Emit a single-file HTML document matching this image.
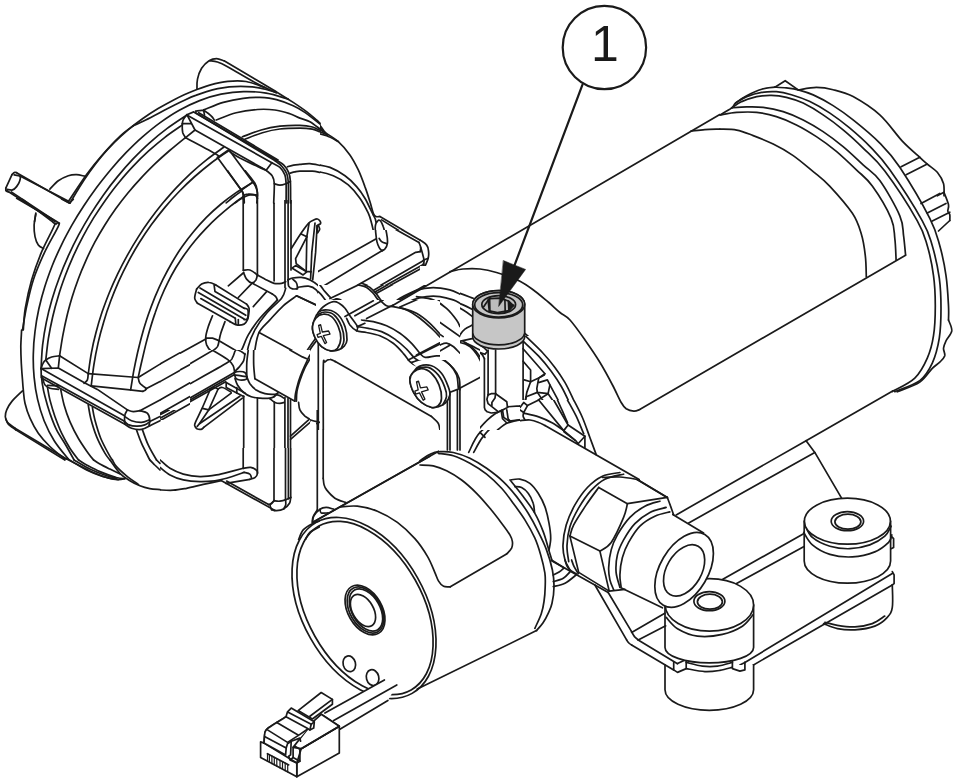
<!DOCTYPE html>
<html><head><meta charset="utf-8"><title>Pump diagram</title>
<style>
html,body{margin:0;padding:0;background:#fff;}
body{width:961px;height:784px;overflow:hidden;}
svg{display:block;}
.ln{fill:none;stroke:#1a1a1a;stroke-width:1.7;stroke-linecap:round;stroke-linejoin:round;}
text{font-family:"Liberation Sans",Arial,sans-serif;fill:#1a1a1a;}
</style></head><body>
<svg width="961" height="784" viewBox="0 0 961 784">
<rect width="961" height="784" fill="#fff"/>
<g class="ln">
<path d="M264.1 87.4C261.1 86.4 252.2 82.5 246.1 81.5C240.1 80.4 233.9 80.7 227.9 81.4C221.8 82 215.7 83.5 209.7 85.1C203.7 86.8 197.7 89.1 191.9 91.5C186 93.8 180.2 96.6 174.6 99.4C169 102.3 163.5 105.4 158.1 108.6C152.8 111.8 147.5 115.3 142.5 118.8C137.4 122.4 132.5 126.2 127.8 130.2C123.1 134.2 118.5 138.3 114.1 142.7C109.7 147.1 105.5 151.7 101.5 156.5C97.5 161.3 93.6 166.4 89.9 171.5C86.2 176.7 82.7 182 79.4 187.3C76.1 192.6 71.5 200.6 69.9 203.2"/>
<path d="M274.9 91.9C273 91.4 267.5 89.6 263.7 88.8C259.9 87.9 256.1 87.3 252.3 86.9C248.4 86.5 244.5 86.3 240.7 86.3C236.8 86.3 233 86.5 229.2 86.9C225.3 87.3 221.5 88 217.8 88.7C214 89.5 210.3 90.5 206.6 91.6C202.9 92.7 199.3 94 195.7 95.4C192.1 96.7 188.5 98.3 185 99.9C181.5 101.5 178 103.2 174.6 104.9C171.1 106.7 167.7 108.5 164.3 110.3C160.9 112.2 157.5 114 154 115.8C150.6 117.6 147.2 119.4 143.7 121.1C140.3 122.7 134.9 125 133.2 125.8"/>
<path d="M68.6 201.2C71.6 196.8 81.1 182.2 86.6 174.6C92.1 167 96 162.1 101.6 155.8C107.1 149.4 114.6 141.3 119.9 136.3C125.1 131.3 131 127.5 133.2 125.8"/>
<path d="M288.2 99.1C284.5 98.1 273.7 94.4 266.2 93.2C258.8 91.9 251 91.4 243.5 91.6C236 91.7 228.4 92.7 221.1 94.2C213.8 95.7 206.6 97.9 199.6 100.6C192.6 103.3 185.8 106.6 179.3 110.3C172.7 114 166.4 118.2 160.2 122.6C154.1 127 148.2 131.9 142.5 136.9C136.8 141.9 131.3 147.3 126 152.7C120.7 158.2 115.6 163.9 110.7 169.7C105.9 175.5 101.1 181.4 96.6 187.5C92.1 193.6 87.8 199.7 83.7 206C79.5 212.3 75.6 218.7 71.9 225.2C68.2 231.8 64.6 238.4 61.4 245.1C58.1 251.9 55 258.7 52.2 265.7C49.5 272.7 46.9 279.8 44.7 287C42.4 294.2 40.5 301.6 38.8 309C37.2 316.4 35.9 324 35 331.5C34 339.1 33.4 346.7 33.3 354.3C33.1 361.9 33.4 369.6 34.1 377.1C34.8 384.6 35.9 392.1 37.6 399.4C39.2 406.6 41.4 413.8 44.1 420.7C46.9 427.6 50.2 434.3 54.2 440.7C58.2 447.1 65.9 456 68.3 459"/>
<path d="M186.6 115.2C183.4 117.4 173.5 123.7 167.2 128.4C161 133 155 138 149.3 143.1C143.5 148.3 138 153.8 132.6 159.4C127.3 165 122.2 170.9 117.3 176.9C112.3 182.9 107.6 189.1 103.1 195.4C98.6 201.8 94.3 208.3 90.2 214.9C86.1 221.5 82.2 228.3 78.5 235.2C74.8 242.1 71.4 249.1 68.2 256.1C65 263.2 62 270.4 59.3 277.7C56.5 285 54.1 292.3 51.9 299.7C49.7 307.2 47.8 314.7 46.3 322.3C44.7 329.9 43.5 337.5 42.6 345.2C41.7 353 41.3 364.7 41.1 368.6"/>
<path d="M182.5 124.9C179.5 127 170.5 133 164.9 137.3C159.2 141.7 153.7 146.4 148.4 151.2C143 156.1 137.9 161.2 133 166.4C128 171.6 123.3 177.1 118.7 182.7C114.1 188.2 109.8 194 105.6 199.9C101.4 205.8 97.4 211.8 93.6 217.9C89.8 224.1 86.2 230.3 82.9 236.7C79.5 243 76.3 249.5 73.3 256.1C70.4 262.6 67.6 269.3 65.1 276C62.6 282.7 60.2 289.5 58.2 296.4C56.1 303.2 54.2 310.2 52.6 317.2C51 324.2 49.6 331.2 48.4 338.4C47.3 345.5 46.2 356.4 45.8 360"/>
<path d="M185 137.9C182.4 140 174.7 146.2 169.7 150.5C164.7 154.8 159.7 159.3 154.9 163.9C150.2 168.5 145.5 173.2 141 178.1C136.5 182.9 132.1 187.9 127.9 193C123.7 198.1 119.6 203.4 115.7 208.8C111.9 214.1 108.2 219.6 104.7 225.3C101.2 230.9 97.9 236.6 94.7 242.4C91.6 248.3 88.7 254.2 86 260.3C83.3 266.3 80.7 272.4 78.4 278.7C76.1 284.9 73.9 291.2 72 297.5C70.1 303.9 68.3 310.3 66.8 316.7C65.2 323.2 63.9 329.7 62.7 336.2C61.5 342.7 60.1 352.5 59.6 355.8"/>
<path d="M223.7 147.2C220.9 149.3 212.3 155.2 206.8 159.6C201.3 163.9 196.1 168.4 191 173.1C185.9 177.9 181 182.8 176.2 187.8C171.4 192.9 166.9 198.2 162.4 203.5C158 208.9 153.8 214.4 149.7 220.1C145.6 225.7 141.7 231.5 138 237.4C134.2 243.3 130.7 249.3 127.3 255.4C123.9 261.5 120.7 267.7 117.7 273.9C114.7 280.2 111.8 286.6 109.2 293C106.6 299.4 104.2 306 101.9 312.5C99.7 319.1 97.7 325.8 96 332.5C94.2 339.2 92.6 346 91.4 352.9C90.1 359.7 88.8 370.2 88.3 373.6"/>
<path d="M229.3 150.2C226.4 152.3 217.3 158.3 211.5 162.7C205.8 167.1 200.2 171.7 194.8 176.5C189.4 181.3 184.2 186.3 179.2 191.5C174.1 196.7 169.3 202.1 164.7 207.6C160 213.2 155.6 218.9 151.3 224.8C147.1 230.6 143.1 236.6 139.2 242.8C135.4 248.9 131.8 255.2 128.4 261.6C125 268 121.8 274.5 118.8 281.1C115.9 287.7 113.1 294.5 110.6 301.2C108 308 105.7 314.9 103.7 321.9C101.6 328.8 99.7 335.8 98.1 342.9C96.5 349.9 95.1 357.1 94 364.2C92.8 371.4 91.7 382.2 91.2 385.8"/>
<path d="M252.5 182.5C249.7 184.3 241.2 189.2 235.8 192.9C230.5 196.5 225.4 200.4 220.5 204.5C215.6 208.6 210.9 212.9 206.4 217.4C202 221.9 197.7 226.6 193.7 231.5C189.6 236.4 185.8 241.4 182.2 246.6C178.5 251.8 175.1 257.2 171.9 262.7C168.7 268.2 165.7 273.8 162.8 279.6C160 285.3 157.4 291.2 154.9 297.1C152.5 303.1 150.2 309.2 148.1 315.3C146.1 321.3 144.1 327.5 142.4 333.7C140.6 339.9 139.1 346.2 137.6 352.5C136.2 358.7 134.9 365 133.7 371.2C132.6 377.5 131.2 386.8 130.6 389.9"/>
<path d="M244.1 195.8C241.9 197.5 235.2 202.4 230.8 205.8C226.5 209.3 222.2 212.9 218.1 216.7C214 220.4 209.9 224.3 206.1 228.3C202.2 232.3 198.5 236.5 195 240.7C191.4 245 188.1 249.4 184.9 253.9C181.7 258.4 178.7 263.1 175.8 267.8C173 272.6 170.3 277.4 167.9 282.4C165.4 287.3 163.1 292.4 161 297.5C158.8 302.6 156.9 307.8 155.1 313.1C153.2 318.3 151.6 323.7 150 329C148.4 334.3 147 339.7 145.6 345.1C144.3 350.5 143 356 141.8 361.3C140.5 366.7 138.8 374.8 138.2 377.4"/>
<path d="M69.9 203.2L16.6 172.7"/>
<path d="M16.6 172.7C16.3 172.7 15.4 172.1 14.7 172.4C13.9 172.7 12.4 174.2 12 174.6"/>
<path d="M12 174.6L5.8 188.2"/>
<path d="M5.8 188.2C5.9 188.6 5.6 190.1 6 190.7C6.4 191.3 7.9 191.7 8.3 191.9"/>
<path d="M68.6 201.2L20 176.1"/>
<path d="M14.2 174.9C15.1 175.1 19.1 175.2 20 176.2C20.9 177.3 20.2 179.5 19.6 181.2C19.1 183 17.8 185.1 16.6 186.6C15.5 188 14 189.4 12.5 189.9C11 190.4 8.3 189.5 7.5 189.4"/>
<path d="M6.3 190.2L54.9 221.5"/>
<path d="M11.3 191.9L53.6 219.9"/>
<path d="M49.9 189.1C51.3 187.7 55.2 183 58.3 180.7C61.3 178.5 65.2 176.8 68.3 175.7C71.3 174.7 73.8 174.5 76.6 174.6C79.4 174.7 83.5 176 84.9 176.2"/>
<path d="M35.8 213.2L34.6 221.5"/>
<path d="M197 89.1C197 87.5 196.7 82.6 197.5 79.1C198.2 75.7 199.7 71.4 201.6 68.3C203.6 65.3 206.6 62.4 209.1 60.8C211.6 59.2 214.1 58.6 216.6 58.6C219.1 58.6 222.9 60.5 224.1 60.8"/>
<path d="M224.1 60.8C229 63.7 244.5 72.8 253.2 78C262 83.1 269.9 87.9 276.5 91.9C283.2 96 288.2 99.2 293.2 102.4C298.2 105.7 302.6 108.7 306.5 111.6C310.4 114.5 314.3 118 316.5 119.9C318.8 121.9 319.4 122.7 320 123.2"/>
<path d="M209.9 60.8C211.2 61 214.7 61.1 217.4 62C220.2 62.9 220.6 63 226.6 66.3C232.6 69.6 246.6 78 253.2 81.6C259.9 85.3 262.7 86.4 266.6 88.3C270.4 90.2 274.9 92.2 276.5 92.9"/>
<path d="M203.6 109.9C206.9 108.7 216.7 104.4 223.3 102.4C229.9 100.5 237.1 99.1 243.2 98.3C249.4 97.4 254.3 97.2 259.9 97.4C265.4 97.7 271 98.2 276.5 99.6C282.1 101 288.5 103.6 293.2 105.8C297.9 107.9 300.4 109.4 304.8 112.4C309.3 115.5 317.5 122.1 320 124.1"/>
<path d="M186.9 114.7C186.2 115.6 183.9 118.3 183.1 120C182.4 121.7 182.3 122.9 182.2 125C182.2 127.1 182.2 130.3 182.7 132.5C183.3 134.6 185.1 136.8 185.6 137.7"/>
<path d="M182.2 123.7L191.2 123.7"/>
<path d="M186.9 114.7L195 130L185.6 137.7"/>
<path d="M195 130L266.2 170.3"/>
<path d="M185.6 137.7C190.7 140.5 210.9 151 216.2 154.3C221.5 157.6 217.3 156.9 217.5 157.4"/>
<path d="M217.5 157.4L241.2 189.9"/>
<path d="M241.2 189.9C241.6 190.7 243.2 192.7 243.7 194.9C244.2 197.1 244.2 201.6 244.3 202.9"/>
<path d="M186.9 114.7L193.7 111.9L276.1 159.9"/>
<path d="M195.6 112.7L275.2 160.8"/>
<path d="M198.7 112.7L278 159.9"/>
<path d="M187.7 115.5L271.8 162.7L266.2 170.3"/>
<path d="M271.8 162.7C273.1 163.5 277.7 165.4 279.9 167.4C282.1 169.5 283.9 172.2 284.9 174.9C285.9 177.6 285.9 179 286.1 183.7C286.3 188.3 286.1 199.7 286.1 202.9"/>
<path d="M276.1 159.9C277.4 160.8 281.6 162.9 283.6 164.9C285.7 167 287.5 169.7 288.6 172.4C289.8 175.1 290.1 176.1 290.4 181.2C290.7 186.2 290.6 199.3 290.6 202.9"/>
<path d="M275.2 160.8C276.3 161.7 279.8 164 281.8 166.2C283.7 168.3 285.7 171 286.8 173.7C287.8 176.4 288 177.5 288.3 182.4C288.5 187.3 288.4 199.5 288.4 202.9"/>
<path d="M266.2 170.3C267.2 171.3 271.1 173.9 272.4 176.2C273.8 178.4 274.1 179.2 274.3 183.7C274.5 188.1 273.8 199.7 273.7 202.9"/>
<path d="M274.3 183.7C275.2 183.9 277.9 185.2 279.9 185.2C281.9 185.2 284.4 184.3 286.1 183.7C287.9 183 289.7 181.6 290.4 181.2"/>
<path d="M218.7 156.6L228.1 150.2"/>
<path d="M229.3 150.2L254.9 184.9"/>
<path d="M254.9 184.9C255.3 186.2 257.1 189.4 257.4 192.4C257.7 195.4 256.9 201.1 256.8 202.9"/>
<path d="M229.9 151.8C231.6 152.9 235.8 155.8 239.9 158.1C244.1 160.3 250.6 163.1 254.9 165.2C259.3 167.2 264.3 169.5 266.2 170.3"/>
<path d="M241.2 190.2L252.4 182.4"/>
<path d="M243.7 195.2C244.4 195 246.2 194.2 248.1 194.2C249.9 194.1 253.5 194.4 254.9 194.9C256.4 195.4 256.5 196.8 256.8 197.2"/>
<path d="M226.2 202.9C227.5 201.9 231.2 198.7 233.7 196.8C236.2 194.9 239.9 192.3 241.2 191.4"/>
<path d="M234.9 202.9C235.7 202.4 237.8 200.9 239.3 199.9C240.8 198.9 243.2 197.3 243.9 196.8"/>
<path d="M216.2 120C219.5 118.8 229.3 114.5 236.2 112.7C243.1 111 251 110 257.4 109.5C263.9 109 269.5 109.3 274.9 110C280.3 110.7 285.7 112.4 289.9 113.7C294 115.1 296.5 116.8 299.9 118.1C303.2 119.4 306.5 119.9 309.9 121.7C313.2 123.5 318.2 127.8 319.9 129"/>
<path d="M242.4 136.8C245.6 135.7 254.9 131.7 261.2 130C267.4 128.2 273.4 127 279.9 126.2C286.3 125.5 294.5 125.2 299.9 125.4C305.3 125.5 309 126.1 312.4 127C315.7 127.9 318.6 130 319.9 130.6"/>
<path d="M244.9 139.3C247.8 138.2 256.6 134.4 262.4 132.7C268.2 131 273.7 129.7 279.9 129C286.1 128.2 294.5 128.1 299.9 128.1C305.3 128.1 309 128.6 312.4 129.2C315.7 129.8 318.6 131.4 319.9 131.8"/>
<path d="M287.4 166.8C288.4 166.5 291.6 165.6 293.6 165.2C295.7 164.8 297.2 164.7 299.9 164.4C302.6 164.2 306.5 163.5 309.9 163.7C313.2 163.9 318.2 165.1 319.9 165.4"/>
<path d="M290.1 173.1C290.9 172.9 293.3 172.2 294.9 171.9C296.5 171.6 297 171.3 299.9 171.2C302.8 171.1 309 171 312.4 171.2C315.7 171.4 318.6 172.2 319.9 172.4"/>
<path d="M195.6 111.2C197 111.1 201.1 109.8 203.7 110.6C206.3 111.4 209.4 114.4 211.2 116C213 117.5 213.8 119.3 214.3 120"/>
<path d="M203.7 110.6L204.5 115.2"/>
<path d="M21.6 330C21.5 332.8 20.9 341.1 20.8 346.6C20.8 352.2 21 357.7 21.3 363.3C21.6 368.8 22.1 375.5 22.5 379.9C22.8 384.4 22.9 386.1 23.3 389.9C23.7 393.8 23.9 398.5 25 403.3C26.1 408 27.7 413.2 30 418.2C32.2 423.2 35 428.5 38.3 433.2C41.6 437.9 45.5 442.2 49.9 446.5C54.4 450.8 62.4 457 64.9 459"/>
<path d="M22.5 390.8C20.7 392.6 14.3 398.4 11.7 401.6C9 404.8 7.7 407.4 6.7 409.9C5.6 412.4 5.2 414.5 5.3 416.6C5.5 418.7 5.9 420.5 7.5 422.4C9.1 424.3 13.7 427.3 15 428.2"/>
<path d="M15 428.2L66.6 459"/>
<path d="M6 419.1C6.4 419.9 6.7 422.3 8.3 424.1C10 425.9 14.6 428.9 15.8 429.9"/>
<path d="M15.8 429.9L64.9 460"/>
<path d="M41.6 377.5C41.8 378.7 41.9 381.8 42.5 384.9C43 388.1 43.7 391.9 45 396.6C46.2 401.3 48 407.7 49.9 413.2C51.9 418.8 53.8 424.3 56.6 429.9C59.4 435.4 63.7 441.5 66.6 446.5C69.5 451.6 72.8 457.8 74.1 460"/>
<path d="M47.5 387.4C47.9 389.5 48.7 395.1 49.9 399.9C51.2 404.8 53 411 54.9 416.6C56.9 422.1 59.1 428 61.6 433.2C64.1 438.5 67.1 443.7 69.9 448.2C72.8 452.7 77.1 458.1 78.6 460"/>
<path d="M60.8 389.9C61.3 392.4 62.6 399.6 64.1 404.9C65.6 410.2 67.6 416 69.9 421.6C72.3 427.1 75.2 432.9 78.3 438.2C81.3 443.5 85.7 449.6 88.2 453.2C90.8 456.8 92.7 458.9 93.6 460"/>
<path d="M88.2 404.9C88.7 407.1 89.4 413 90.7 418.2C92.1 423.5 94.2 430.7 96.6 436.6C98.9 442.4 102.7 449.3 104.9 453.2C107.1 457.1 109.1 458.9 109.9 460"/>
<path d="M92.4 407.4C92.8 409.5 93.5 414.8 94.9 419.9C96.3 425 98.4 432.4 100.7 438.2C103.1 444 107.1 451.2 109.1 454.9C111 458.5 111.8 459.2 112.4 460"/>
<path d="M136.5 429.9C137.4 432.1 139.3 438.2 141.5 443.2C143.7 448.2 148.5 457.2 149.8 460"/>
<path d="M142.4 429.6C143.3 432.1 145.8 439.8 148.2 444.9C150.5 450 155.1 457.5 156.5 460"/>
<path d="M41.1 368.6C41.4 367.7 42.2 364.7 43 363.3C43.7 361.9 44.3 361 45.8 360C47.2 358.9 49.3 357.7 51.6 357C53.9 356.3 58.3 356 59.6 355.8"/>
<path d="M59.6 355.8L88.2 373.6L138.2 377.5L160 364.1"/>
<path d="M59.6 355.8L58.3 368"/>
<path d="M45.8 360L51.6 368.3"/>
<path d="M41.1 368.6L58.3 368L84.9 382.9"/>
<path d="M88.2 373.6C88.1 374.7 88.1 378.3 87.4 379.9C86.7 381.6 84.6 382.7 84.1 383.3"/>
<path d="M138.2 377.5C138.5 378.4 138.5 381.4 139.9 383.3C141.2 385.1 145.4 387.7 146.5 388.6"/>
<path d="M91.2 385.8L129.9 389.9L142.9 391.3"/>
<path d="M142.9 391.3C143.2 391.1 144.6 390.7 145.2 390.3C145.8 389.8 146.3 388.9 146.5 388.6"/>
<path d="M146.5 388.6L160 381.6"/>
<path d="M84.9 382.9L97.4 389.4L127.4 409.9"/>
<path d="M127.4 409.9C128.3 410.2 131.1 411.4 133.2 411.6C135.3 411.7 138.7 410.9 139.9 410.7"/>
<path d="M139.9 410.7L160 399.9"/>
<path d="M127.4 409.9C127 410.7 125.3 413 124.9 414.9C124.4 416.9 124.5 420 124.5 421.6C124.6 423.1 125.1 423.8 125.2 424.2"/>
<path d="M139.9 410.7C141.1 411.2 145.7 411.7 147.3 413.2C149 414.8 149.6 417.9 149.8 419.9C150.1 421.9 149.2 424.3 149 425.2"/>
<path d="M41.1 368.6L124.5 415.7"/>
<path d="M41.1 368.6L41.3 377.5"/>
<path d="M41.6 375.8L124.5 421.2"/>
<path d="M124.5 421.2C125.1 421.8 126.2 423.7 128.2 424.6C130.2 425.4 133.7 426.2 136.5 426.2C139.3 426.3 142.6 425.7 144.8 424.9C147.1 424.1 149 422.1 149.8 421.6"/>
<path d="M149.8 421.6L160 416.6"/>
<path d="M42 378.3L124.9 424.2"/>
<path d="M124.9 424.2C126 424.9 128.8 427.4 131.5 428.2C134.3 429.1 138.5 429.8 141.5 429.4C144.6 429 148.5 426.3 149.8 425.7"/>
<path d="M149.8 425.7L160 420.7"/>
<path d="M124.9 416.6C126 417.3 128.8 419.8 131.5 420.7C134.3 421.7 138.6 422.5 141.5 422.4C144.5 422.3 148 420.3 149.3 419.9"/>
<path d="M42.5 378C42.9 379.1 43.7 383.2 45 384.9C46.2 386.7 47.7 387.6 49.9 388.3C52.2 389 57.2 389.1 58.6 389.3"/>
<path d="M47.5 385.3L59.1 385.9"/>
<path d="M16.6 198.3C23.2 202.1 48.9 216.9 55.8 221C62.7 225.1 57.5 222.1 57.9 223C58.4 223.9 60.6 221.3 58.3 226.3C56 231.4 48.3 244.3 44.1 253.3C40 262.2 36.2 271 33.3 279.9C30.4 288.8 28.4 298.2 26.6 306.6C24.8 314.9 23.2 326.1 22.5 330"/>
<path d="M22.5 199.5C27.6 203.3 47.9 218.2 53.3 222.5C58.6 226.7 56.6 220.1 54.6 225C52.7 229.9 45.5 242.8 41.6 251.9C37.8 261.1 34.4 270.5 31.6 279.9C28.9 289.3 26.7 299.9 25.3 308.2C23.9 316.6 23.6 326.4 23.3 330"/>
<path d="M35.8 214.2C35.5 216 34.3 221.2 34.1 225C34 228.7 34.3 233.3 35 236.6C35.7 240 36.9 243 38.3 245C39.7 247 42.7 248 43.6 248.6"/>
<path d="M61.6 199L69.1 203L73.3 199.3"/>
<path d="M65.8 458.6C67.3 459.4 70.3 461 74.9 463.3C79.5 465.6 87.7 470 93.2 472.5C98.8 474.9 104.1 476.8 108.2 478C112.4 479.2 115.4 479.5 118.2 479.6C121 479.7 123.8 478.8 124.9 478.6"/>
<path d="M68.3 459.1C71.3 461 80.7 467.1 86.6 470C92.4 472.9 98 475 103.2 476.6C108.5 478.2 115.7 479.1 118.2 479.6"/>
<path d="M74.1 460C76.7 461.5 84.5 466.5 89.9 469.1C95.3 471.8 102.1 474.3 106.6 475.8C111 477.3 114.9 477.9 116.5 478.3"/>
<path d="M78.6 460C79.9 460.8 83 463 86.6 465C90.1 466.9 94.9 469.6 99.9 471.6C104.9 473.7 112.4 476.3 116.5 477.5C120.7 478.6 123.5 478.4 124.9 478.6"/>
<path d="M93.6 460C94.6 460.7 97.2 462.6 99.9 464.1C102.6 465.7 106.5 467.5 109.9 469.1C113.3 470.8 118.5 473.3 120.2 474.1"/>
<path d="M109.9 460C111.6 462.2 116.5 469.8 119.9 473.3C123.2 476.8 126.5 478.7 129.9 480.8C133.2 482.9 136.5 484.5 139.9 485.8C143.2 487.1 146.5 488 149.8 488.6C153.2 489.3 158.3 489.4 160 489.6"/>
<path d="M112.4 460C113.1 461.1 114.2 464 116.5 466.6C118.9 469.3 122.9 472.8 126.5 475.8C130.2 478.8 136.5 483.1 138.5 484.6"/>
<path d="M149.8 460C150.7 460.8 153.1 463.3 154.8 465C156.5 466.6 159.1 469.1 160 470"/>
<path d="M156.5 460L160 463.3"/>
<clipPath id="c_t10"><rect x="320" y="0" width="160" height="100"/></clipPath><g clip-path="url(#c_t10)"><path d="M240 69.4C245.4 72.5 262.9 82 272.5 87.9C282 93.8 290.4 99.4 297.4 104.9C304.5 110.4 310.3 116.5 314.9 121.1C319.6 125.8 323.7 130.9 325.4 132.9"/>
<path d="M240 72.7C245 75.3 261 83.3 270 88.7C278.9 94 286.8 99.5 293.7 104.9C300.6 110.3 306.4 116.6 311.2 121.1C316 125.6 320.5 130.1 322.4 131.9"/>
<path d="M240 80.4C242.5 80.7 249.8 81 255 82.4C260.2 83.9 268.5 88 271.2 89.2"/>
<path d="M240 86.7C243.3 86.9 252.9 86.2 260 87.9C267.1 89.6 278.7 95.4 282.5 96.9"/>
<path d="M240 95.7C243.3 95.2 253.3 92.9 260 92.9C266.6 92.9 273.3 93.2 280 95.4C286.6 97.6 294.1 101.9 299.9 106.1C305.8 110.4 312.4 118.6 314.9 121.1"/>
<path d="M240 112.4C244.2 111.8 256.6 109.1 265 109.1C273.3 109.1 282.5 110.3 289.9 112.4C297.4 114.5 304.1 118.2 309.9 121.6C315.8 125 322.4 131 324.9 132.9"/>
<path d="M299.9 124.9C302 125.2 308.6 125.7 312.4 126.9C316.3 128 321.2 130.8 322.9 131.6"/>
<path d="M299.9 127.6C302 127.9 308.3 128.1 312.4 129.1C316.6 130.1 320.3 131 324.9 133.6C329.5 136.2 335.3 140.1 339.9 144.8C344.5 149.6 348.6 156.5 352.4 162.3C356.1 168.2 359.7 174.2 362.4 179.8C365.1 185.4 367.6 193.1 368.6 195.8"/>
<path d="M299.9 163.8C301.6 163.8 305.3 163 309.9 163.6C314.5 164.2 321.6 165 327.4 167.3C333.2 169.7 339.5 173.1 344.9 177.8C350.3 182.6 357.4 192.8 359.9 195.8"/>
<path d="M299.9 171.3C302 171.3 307.4 170.4 312.4 171.1C317.4 171.7 324.3 172.8 329.9 175.3C335.5 177.8 342.1 182.6 346.1 186.1C350.2 189.5 353 194.2 354.4 195.8"/></g>
<clipPath id="c_t11a"><rect x="160" y="170" width="120" height="80"/><rect x="280" y="170" width="40" height="30"/><rect x="160" y="250" width="20" height="50"/></clipPath><g clip-path="url(#c_t11a)"><path d="M225.8 168.3C228.3 171.8 237.9 185 240.7 189.1C243.6 193.3 242.5 191.6 242.9 193.3C243.3 195 243.2 198.2 243.2 199.1"/>
<path d="M243.2 199.1L243.2 268.2"/>
<path d="M243.2 268.2C243.5 269.6 243.7 273.8 244.9 276.6C246.2 279.3 247.1 281.6 250.7 284.9C254.3 288.2 263.9 294.3 266.6 296.2"/>
<path d="M243.2 168.3C245.2 170.8 252.6 179.4 254.9 183.3C257.2 187.2 256.8 189.1 257.2 191.6C257.6 194.1 257.4 197.2 257.4 198.3"/>
<path d="M257.4 198.3L257.4 271.6"/>
<path d="M257.4 271.6C257.2 272.8 257.3 276.9 256.2 279.1C255.2 281.2 252.1 283.6 251.2 284.5"/>
<path d="M243.2 197.5C244.4 197.1 247.5 195.4 249.9 195C252.3 194.6 256.1 195 257.4 195"/>
<path d="M243.2 269.9C244.5 269.8 248.4 269 250.7 269.6C253.1 270.2 256.3 272.9 257.4 273.6"/>
<path d="M257.4 273.6L274 283.2"/>
<path d="M274 203.3L274 283.2"/>
<path d="M285.5 203.3L285.5 284.9"/>
<path d="M288.4 203.3L288.4 283.2"/>
<path d="M290.7 203.3L290.7 278.2"/>
<path d="M274 283.2C275 283.4 277.6 284.3 279.5 284.2C281.5 284.1 284.5 282.8 285.5 282.5"/>
<path d="M285.5 284.9C285.3 286.1 285.1 289.8 284 292.4C283 294.9 279.9 298.8 279 300"/>
<path d="M243.2 271.6C241.3 273.5 234.4 280.1 231.6 283.2C228.8 286.3 227.4 289 226.6 290.2"/>
<path d="M255.7 279.9C254.2 281.6 249.6 286.5 246.6 289.9C243.5 293.2 238.9 298.3 237.4 300"/>
<path d="M266.6 296.2L261.6 300"/>
<path d="M289.9 279.1C290.4 278.9 290.4 277.9 293.2 278.2C296 278.6 302 280.1 306.5 281.2C311 282.3 317.8 284.3 320 284.9"/>
<path d="M289 279.9C289.2 281 289.2 285.1 289.9 286.5C290.6 288 288.2 288.2 293.2 288.5C298.2 288.9 315.5 288.5 320 288.5"/>
<path d="M296.5 280.2C296.9 281 298.3 283.5 298.5 284.9C298.7 286.3 298 287.9 297.9 288.5"/></g>
<clipPath id="c_t12a"><rect x="160" y="380" width="30" height="40"/><rect x="160" y="290" width="20" height="90"/><rect x="310" y="380" width="6" height="40"/></clipPath><g clip-path="url(#c_t12a)"><path d="M198 289.2C197.5 290 195.6 292.5 195.3 294.2C195 295.8 195.2 297.6 196.3 299.2C197.3 300.7 200.7 302.6 201.6 303.3"/>
<path d="M201.6 303.3L234.9 323.8"/>
<path d="M234.9 323.8C235.8 324 238.3 325.4 239.9 325.3C241.6 325.2 243.7 324.2 244.9 323.3C246.2 322.4 246.6 321.5 247.4 320C248.2 318.4 249.2 315.9 249.6 314.1C250 312.3 250.4 310.6 249.9 309.1C249.4 307.7 247.1 306 246.6 305.3"/>
<path d="M246.6 305.3L214.9 289.2"/>
<path d="M201.6 290.8L248.2 315"/>
<path d="M198.6 294.2L246.6 318.6"/>
<path d="M199.1 299.2L235.8 318.3L234.9 323.8"/>
<path d="M237.4 319L237.4 324.6"/>
<path d="M235.8 318.3L246.9 316.6"/>
<path d="M226.6 289.2C226.6 290.3 225.6 293.9 226.6 295.8C227.6 297.7 230.6 299.8 232.4 300.5C234.3 301.2 236.9 300.1 237.8 300"/>
<path d="M237.8 300L253.2 287.5"/>
<path d="M213.3 312C212.4 313.9 209.5 319.5 208.3 323.3C207 327.1 206.1 331.6 205.8 335C205.5 338.3 205.6 340.6 206.6 343.3C207.6 345.9 209.4 348.8 211.6 350.8C213.8 352.7 216.9 353.4 219.9 354.9C223 356.5 227.6 358 229.9 360.3C232.3 362.5 233.3 366.2 234.1 368.3C234.9 370.3 234.8 372 234.9 372.7"/>
<path d="M225.8 315C224.9 317.2 222 324.1 220.8 328.3C219.5 332.5 218.7 338 218.3 339.9"/>
<path d="M205.8 338.3C206.8 338.1 209.5 337.2 211.6 337.5C213.7 337.7 217.2 339.5 218.3 339.9"/>
<path d="M218.3 339.9L236.6 349.9"/>
<path d="M236.6 349.9C237.3 350.2 239.4 351.2 240.7 351.6C242.1 352 244.2 352.4 244.9 352.6"/>
<path d="M211.9 350.8C212.8 349.9 215.9 347.6 216.9 345.8C218 344 218.1 340.9 218.3 339.9"/>
<path d="M160 363.9L205.8 338.3"/>
<path d="M160 381.6L212.9 351.9"/>
<path d="M160 399.9L229.6 360.3"/>
<path d="M160 413.5L234.1 371.6"/>
<path d="M160 420.7L225.8 383.6"/>
<path d="M284 289.2C282.5 290.7 277.8 295.1 274.9 298.3C272 301.5 269.3 304.2 266.6 308.3C263.8 312.5 260.5 318.3 258.2 323.3C256 328.3 254.5 333 253.2 338.3C252 343.6 251.3 349.7 250.7 354.9C250.2 360.2 249.9 366 249.9 369.9C249.9 373.8 249.9 375.5 250.7 378.2C251.6 381 252.8 384.2 254.9 386.6C257 388.9 259.9 391.1 263.2 392.4C266.6 393.7 272.9 394.2 274.9 394.6"/>
<path d="M269.1 289.2C267.5 291 262.9 295.7 259.9 300C256.8 304.3 253.2 309.4 250.7 315C248.3 320.5 246.5 328 245.2 333.3C244 338.6 243.4 343.3 243.2 346.6C243.1 349.9 243.9 351.9 244.1 352.9"/>
<path d="M244.1 352.9C244.4 353.8 246.3 355.8 245.7 358.3C245.2 360.7 242.6 365.1 240.7 367.4C238.9 369.8 235.9 371.6 234.9 372.4"/>
<path d="M234.9 372.4C235.9 372.3 238.9 371.4 240.7 371.6C242.6 371.7 244.7 371.9 245.7 373.2C246.8 374.6 246.7 378.4 246.9 379.4"/>
<path d="M234.9 373.2C235.1 374.1 234.9 377.1 235.8 378.2C236.6 379.4 238.1 379.7 239.9 379.9C241.8 380.1 245.7 379.6 246.9 379.6"/>
<path d="M235.8 378.2C236.2 379.6 236.4 383.8 238.3 386.6C240.1 389.3 243.5 392.8 246.6 394.9C249.6 397 253 398.2 256.6 399.1C260.2 399.9 265.2 400.5 268.2 400.2C271.3 399.9 273.4 398.3 274.9 397.4C276.3 396.4 276.5 395 276.9 394.6"/>
<path d="M259.9 332.5L302.4 356.6"/>
<path d="M259.9 332.5C259.2 335.1 256.6 342.9 255.7 348.3C254.8 353.7 254.7 359.9 254.6 364.9C254.4 369.9 254.8 376 254.9 378.2"/>
<path d="M254.9 378.2L294.9 401.6"/>
<path d="M302.4 356.6C301.7 359.4 299.3 367.7 298.2 373.2C297.1 378.8 296.2 385.2 295.7 389.9C295.1 394.6 295 399.6 294.9 401.6"/>
<path d="M259.9 332.5C261.3 330.4 264.9 324.1 268.2 320C271.6 315.8 275.3 311.5 279.9 307.5C284.5 303.5 293.1 297.8 295.7 295.8"/>
<path d="M295.7 295.8L320 305.8"/>
<path d="M295.7 295.8L320 310.8"/>
<path d="M302.4 356.6C303.3 354.9 305.8 349.5 308.2 346.6C310.5 343.7 314.4 340.7 316.5 339.1C318.6 337.5 320 337.5 320.7 337.1"/>
<path d="M296.9 373.2C297.6 371.2 299.4 364.9 301.5 360.8C303.7 356.7 307.1 351.7 309.8 348.6C312.6 345.5 316.8 343.1 318.2 341.9"/>
<path d="M320 313.3C319.3 313.3 316.8 313 315.7 313.3C314.5 313.6 313.7 313.6 313.2 315.3C312.6 317 311.9 320.6 312.3 323.3C312.8 326 314.4 329.1 315.7 331.6C316.9 334.1 319.3 337.2 320 338.3"/>
<path d="M317.3 342.9L317.3 421.5"/>
<path d="M298.2 401.9C298.3 403.2 297.9 407.4 299 409.9C300.1 412.3 302.9 414.7 304.8 416.5C306.8 418.3 309.7 420 310.7 420.7"/>
<path d="M243.2 396.6L243.2 421.5"/>
<path d="M257.4 399.1L257.4 421.5"/>
<path d="M274.9 400.7L274.9 421.5"/>
<path d="M284 402.9L284 421.5"/>
<path d="M287.4 398.2L287.4 421.5"/>
<path d="M289.2 398.2L289.2 421.5"/>
<path d="M195.8 421.5L208.3 391.9L214.9 388.2L218.6 389.9L209.9 410.2L201.6 408.5"/>
<path d="M208.3 391.9L202 408.5L197.5 421.5"/>
<path d="M209.9 410.2L240.2 396.6"/>
<path d="M218.6 389.9L225.8 383.6L225.8 389.9L241.9 398.6"/>
<path d="M225.8 389.9L236.6 393.6L236.6 390.2"/>
<path d="M209.9 410.2L207.5 421.5"/></g>
<clipPath id="c_t13a"><rect x="160" y="410" width="30" height="130"/><rect x="190" y="448" width="130" height="92"/><rect x="310" y="410" width="10" height="38"/></clipPath><g clip-path="url(#c_t13a)"><path d="M243.2 408.3L243.2 468.3"/>
<path d="M257.4 408.3L257.4 473.3"/>
<path d="M274 408.3L274 500.7"/>
<path d="M285.5 408.3L285.5 499.9"/>
<path d="M288.4 408.3L288.4 498.6"/>
<path d="M290.7 408.3L290.7 497.4"/>
<path d="M290.7 497.4C290.5 498.4 290.7 501.3 289.5 503.2C288.3 505.2 285.7 507.8 283.5 509.1C281.4 510.3 278.5 510.6 276.5 510.7C274.5 510.8 272.4 509.8 271.6 509.6"/>
<path d="M274 500.7C275 500.8 277.7 501.5 279.9 501.2C282 501 285.1 499.9 286.9 499.2C288.7 498.6 290.1 497.7 290.7 497.4"/>
<path d="M274 500.7C273.4 501.4 270.6 503.4 270.2 504.9C269.8 506.4 271.3 508.8 271.6 509.6"/>
<path d="M285.5 499.9C285.6 500.7 286 503.4 285.7 504.9C285.4 506.4 283.9 508.4 283.5 509.1"/>
<path d="M221.1 480.6L274.9 510.4"/>
<path d="M226.6 481.1L268.6 504.6"/>
<path d="M268.6 504.6C269.1 504.4 270.6 504.2 271.6 503.6C272.5 502.9 273.6 501.2 274 500.7"/>
<path d="M243.2 468.3C244.5 468.1 248.5 467.1 250.7 467.4C253 467.8 255.5 469.2 256.6 470.3C257.7 471.3 257.6 472.4 257.4 473.6C257.2 474.8 256.5 476.5 255.2 477.4C254 478.4 250.8 479 249.9 479.3"/>
<path d="M249.9 479.3L225.8 483.3"/>
<path d="M244.1 472.4C245.1 472.7 248.7 473.1 249.9 474.1C251.2 475.1 251.3 477.6 251.6 478.3"/>
<path d="M160 459.9C161.7 461.3 166.1 465.9 170 468.3C173.9 470.6 178.3 472.7 183.3 474.1C188.3 475.5 194.4 476.5 200 476.6C205.5 476.7 211.1 475.9 216.6 474.9C222.2 474 228.8 471.9 233.3 470.8C237.7 469.7 241.6 468.7 243.2 468.3"/>
<path d="M160 467.4C161.7 468.7 166.1 472.9 170 474.9C173.9 477 178.3 478.8 183.3 479.9C188.3 481 194.7 481.5 200 481.6C205.2 481.7 210.5 481.3 214.9 480.8C219.4 480.2 221.7 479.6 226.6 478.3C231.5 476.9 241.2 473.4 244.1 472.4"/>
<path d="M160 489.9C162.2 490 168.9 490.5 173.3 490.2C177.8 490 181.6 489.2 186.6 488.3C191.6 487.3 197.5 485.7 203.3 484.4C209 483.1 218.1 481.2 221.1 480.6"/>
<path d="M160 418.3L175 410"/>
<path d="M160 414.7L169.2 410"/>
<path d="M198.6 409.2C198 411.2 195.4 418.7 195 421.7C194.5 424.6 195 425.4 195.8 426.6C196.6 427.9 198.6 429 200 429.1C201.3 429.3 203.1 428.2 204.1 427.5C205.1 426.8 205.8 425.4 206.1 425"/>
<path d="M206.1 425L224.1 409.2"/>
<path d="M201.6 413.3L200 425.8L203.3 426.6L215.8 409.2"/>
<path d="M291.5 435L308.2 419.2"/>
<path d="M291.5 439.5L309.8 421.3"/>
<path d="M299 410C299.4 410.8 300 413.5 301.5 415C303 416.5 305.1 417.9 308.2 419.2C311.3 420.4 318 421.9 320 422.5"/>
<path d="M317.3 408.3L317.3 509.9"/>
<path d="M317.3 509.9C316.6 511 314 514.6 313.2 516.6C312.3 518.5 312.5 520.7 312.3 521.6"/>
<path d="M298.2 540.7C299 538.9 300.7 532.8 303.2 529.9C305.7 527 310.4 524.7 313.2 523.2C316 521.7 318.9 521.1 320 520.7"/>
<path d="M304.8 540.7C305.7 539.3 307.3 534.7 309.8 532.4C312.4 530 318.3 527.5 320 526.5"/></g>
<ellipse cx="604.4" cy="47.5" rx="41.7" ry="41.7" stroke-width="2.2"/>
<path d="M582.4 84.9L514 266.7" stroke-width="2.2"/>
<path d="M393.1 305.2L719.8 114.6"/>
<path d="M691 131.1C693.3 130.9 700 129.9 704.8 129.6C709.6 129.3 717.3 129.2 719.8 129.1"/>
<clipPath id="c_t21a"><rect x="318" y="230" width="102" height="55"/><rect x="420" y="230" width="12" height="36"/></clipPath><g clip-path="url(#c_t21a)"><path d="M354.9 190C356.6 192.5 362.2 200.5 364.9 205C367.7 209.4 369.9 213.6 371.6 216.6C373.3 219.7 374.2 220.5 374.9 223.3C375.6 226.1 375.4 230.2 375.8 233.3C376.1 236.3 376.4 239.3 376.9 241.6C377.5 244 378.3 245.9 379.1 247.4C379.9 249 381.4 250.2 381.9 250.8"/>
<path d="M362.4 190C363.4 191.7 366.5 196.1 368.3 200C370.1 203.9 372 210.4 373.3 213.3C374.5 216.2 375.3 216.8 375.8 217.5"/>
<path d="M368.3 190C368.8 192.2 370.5 199.2 371.6 203.3C372.7 207.5 373.7 212.8 374.9 215C376.2 217.2 378.4 216.4 379.1 216.6"/>
<path d="M376.6 221.6C377 221.2 378 219.1 379.1 219.1C380.2 219.1 382 219.3 383.2 221.6C384.5 224 385.9 229.7 386.6 233.3C387.3 236.9 387.7 240.6 387.4 243.3C387.1 245.9 385.8 247.9 384.9 249.1C384 250.4 382.4 250.5 381.9 250.8"/>
<path d="M379.1 238.3C379.5 238.8 380.3 240.7 381.6 241.6C382.8 242.5 385.7 243.3 386.6 243.6"/>
<path d="M379.1 216.6L419.9 239.9"/>
<path d="M419.9 239.9C421 240.8 425.1 243.1 426.5 244.9C428 246.7 428.3 248.6 428.5 250.8C428.8 253 428.8 255.8 428.2 258.3C427.6 260.8 425.7 264.5 425.2 265.8"/>
<path d="M381.6 221.6L419 242.4"/>
<path d="M419 242.4C419.3 243.3 420.5 245.9 420.7 247.4C420.9 249 420.3 250.9 420.2 251.6"/>
<path d="M420.7 247.4C421.3 249.5 423.6 257 424 259.9C424.5 262.8 423 263.9 423.2 264.9C423.4 266 424.9 266 425.2 266.3"/>
<path d="M428.2 258.3L423.2 260.3"/>
<path d="M420.2 251.6L415.7 252.3L330 300.7"/>
<path d="M423.2 260.8L374.1 289.1"/>
<path d="M424.2 264.1L375.3 291.2"/>
<path d="M425.2 266.3L376.9 292.6"/>
<path d="M375.8 239.1L315 273.2"/>
<path d="M383.2 249.9L323.3 286.2"/>
<path d="M300 278.2C301.7 278.7 306.9 279.4 310 280.7C313 282.1 315.8 283.9 318.3 286.6C320.8 289.2 323.1 294.1 325 296.6C326.9 299 328.9 300.4 329.6 301.2"/>
<path d="M300 287.4C301.9 287.5 308.3 287 311.7 288.2C315 289.5 317.5 292.4 320 294.9C322.5 297.4 326.6 300.7 326.6 303.2C326.6 305.7 321.9 307.7 320 309.9C318 312.1 316.1 314.7 315 316.5C313.9 318.3 313.6 320 313.3 320.7"/>
<path d="M300 296.6C301.7 297.1 306.4 298.2 310 299.9C313.6 301.6 319.7 305.4 321.6 306.5"/>
<path d="M326.6 303.2C328.6 302.4 335.5 298.6 338.3 298.2C341.1 297.8 341.7 298.8 343.6 300.7C345.6 302.7 347.9 306.5 349.9 309.9C352 313.2 354.8 318.9 355.8 320.7"/>
<path d="M321.6 306.5C323.6 306 329.7 303.2 333.3 303.2C336.9 303.2 340.2 303.6 343.3 306.5C346.4 309.5 350.5 318.3 351.9 320.7"/>
<path d="M316.6 313.2C318 312.7 322.2 310.2 325 309.9C327.7 309.6 330.7 309.7 333.3 311.5C335.9 313.3 339.1 319.2 340.3 320.7"/>
<path d="M358.3 284.9C359.7 285.3 364.1 286 366.6 287.4C369.1 288.8 371.3 291.1 373.3 293.2C375.2 295.3 376 297.7 378.3 299.9C380.5 302.1 384 305.1 386.6 306.5C389.1 308 392.4 308.2 393.6 308.5"/>
<path d="M361.6 283.2C363 283.8 367.4 285.1 369.9 286.9C372.5 288.7 374.9 291.8 376.9 294.1C378.9 296.3 379.8 298.4 381.9 300.2C384.1 302 386.9 305.2 389.9 304.9C392.9 304.6 395.5 301 399.9 298.6C404.3 296.1 411 292.1 416.5 290.2C422.1 288.4 427.6 287.6 433.2 287.6C438.7 287.5 445.4 288.8 449.8 289.9C454.3 291 458.3 293.4 460 294.1"/>
<path d="M399.9 308.2C402.7 306.7 411 301.2 416.5 299.2C422.1 297.3 427.6 296.4 433.2 296.6C438.7 296.7 445.4 298.5 449.8 299.9C454.3 301.3 458.3 304 460 304.9"/>
<path d="M419.9 288.2C422.1 288.2 428.2 287.6 433.2 288.2C438.2 288.8 445.4 290.5 449.8 291.9C454.3 293.3 458.3 296.1 460 296.9"/>
<path d="M354.9 313.5L378.3 300.7"/>
<path d="M378.3 320.7L388.6 306.9"/></g>
<clipPath id="c_t22a"><rect x="316" y="300" width="124" height="130"/></clipPath><g clip-path="url(#c_t22a)"><path d="M318.3 341.6L318.3 431.5"/>
<path d="M323.3 431.5C323.3 420.7 323 378.2 323.3 366.6C323.6 355 323.9 363.2 325 361.9C326.1 360.7 328.2 359.3 330 359.3C331.7 359.2 334.4 361.2 335.3 361.6"/>
<path d="M335.3 361.6L431.5 416.5"/>
<path d="M431.5 416.5C432.6 417.7 436.7 420.7 438.2 423.2C439.6 425.7 439.9 430.1 440.2 431.5"/>
<path d="M318.3 312.5C319.1 311.5 320.8 308.5 323.3 306.7C325.8 304.9 330.7 302.2 333.3 301.7C335.9 301.1 337.2 302.2 339.1 303.3C341.1 304.4 343.1 306.2 345 308.3C346.8 310.4 347.9 312.8 349.9 315.8C352 318.9 356.3 324.1 357.4 326.6C358.6 329.1 356.7 330.1 356.6 330.8"/>
<path d="M346.6 318.3C347.2 319.4 348.3 322.9 349.9 325C351.6 327.1 353.8 329.6 356.6 330.8C359.4 332 362.7 331.6 366.6 332.5C370.5 333.3 375.5 334 379.9 335.8C384.4 337.6 389.4 340.4 393.2 343.3C397.1 346.2 400.5 350.2 403.2 353.3C406 356.3 407.7 359.5 409.9 361.6C412.1 363.7 414.8 365.1 416.5 365.8C418.3 366.5 419.6 365.8 420.2 365.8"/>
<path d="M357.4 326.6C359.2 326.9 364.2 327.5 368.3 328.3C372.3 329.1 377.1 329.8 381.6 331.6C386 333.4 390.7 336.2 394.9 339.1C399.1 342 403.2 345.9 406.6 349.1C409.9 352.3 412.1 356.1 414.9 358.3C417.7 360.5 420.2 361.8 423.2 362.4C426.3 363 431.5 362 433.2 361.9"/>
<path d="M361.6 320C363.5 320.3 369.1 320.7 373.3 321.6C377.4 322.6 382.1 323.9 386.6 325.8C391 327.7 395.7 330.4 399.9 333.3C404.1 336.2 408.2 340 411.6 343.3C414.9 346.6 417.6 350.9 419.9 353.3C422.2 355.6 422.4 357 425.2 357.4C428 357.9 433.3 355.8 436.5 355.8C439.8 355.8 442.1 355.6 444.8 357.4C447.6 359.2 451.1 363.1 453.2 366.6C455.3 370.1 456.5 374.4 457.3 378.3C458.2 382.1 458 388 458.2 389.9"/>
<path d="M345 316.6L373.3 300.8"/>
<path d="M354.9 315.8L383.2 300"/>
<path d="M357.4 326.6L364.9 323.3"/>
<path d="M366.6 318.6L393.2 305"/>
<path d="M399.9 307L419.9 298.3"/>
<path d="M408.2 359.9L449.8 339.1"/>
<path d="M416.5 354.9L443.5 340.8"/>
<path d="M379.9 300C381 301 384.4 304.7 386.6 305.8C388.8 306.9 389.9 306 393.2 306.7C396.6 307.4 402.1 308 406.6 310C411 311.9 415.4 315 419.9 318.3C424.3 321.6 429.3 326.4 433.2 330C437.1 333.6 440.4 337.8 443.2 340C446 342.1 447 342.7 449.8 343C452.6 343.2 458.3 341.8 460 341.6"/>
<path d="M399.9 307.5C402.7 308.5 411.6 310.7 416.5 313.3C421.5 316 425.7 319.6 429.9 323.3C434 327.1 439.6 333.7 441.5 335.8"/>
<path d="M438.2 300C440.1 300.8 446.2 303.1 449.8 305C453.5 306.9 458.3 310.5 460 311.7"/>
<path d="M446.5 393.2L446.5 431.5"/>
<path d="M449 393.2L449 431.5"/>
<path d="M456.5 390.2L456.5 431.5"/>
<path d="M446.5 393.2C447.1 393.2 447.9 393.8 449.8 393.2C451.8 392.7 456.4 390.6 458.2 389.9C460 389.2 460.2 389.1 460.7 388.9"/>
<path d="M300 366.6C300.8 364.4 303.1 357.2 305 353.3C306.9 349.4 309.6 345.9 311.7 343.3C313.7 340.7 316.5 338.4 317.5 337.5"/>
<path d="M300 371.9C301.1 369.2 303.9 360.5 306.7 355.3C309.4 350 315 342.8 316.6 340.3"/>
<path d="M300 413.2C301.4 414.4 305.3 418.4 308.3 420.2C311.3 422 316.4 423.4 318 424"/>
<path d="M300 431.5L310.3 420.2"/></g>
<path d="M720 114.9C722 113.7 729.1 109.9 731.7 107.9C734.4 105.9 733.2 104.9 735.7 102.9C738.2 100.9 742.4 97.9 746.7 95.7C751.1 93.4 757 90.6 761.7 89.2C766.4 87.7 772.7 87.5 774.9 87.2"/>
<path d="M774.9 87.2L785.2 80.7L798.2 89.9"/>
<path d="M798.2 89.9C801.2 89.5 810.6 87.5 816.4 87.4C822.2 87.4 827 88.1 833.1 89.7C839.3 91.2 845.3 92.4 853.1 96.6C860.9 100.9 871.6 107.5 879.8 114.9C888 122.3 895.7 134 902.3 141.1C909 148.2 916.9 154.6 919.8 157.3"/>
<path d="M774.9 87.2C776.9 87.3 782.6 87.5 786.4 87.9C790.3 88.4 793.7 88.7 798.2 89.9C802.6 91.1 807.3 92.3 813.2 94.9C819 97.5 826.5 101.5 833.1 105.6C839.8 109.8 845.3 113.6 853.1 119.9C860.9 126.1 872 135.2 879.8 143.1C887.6 151 891.5 154.8 899.8 167.3C908.1 179.9 923.1 205.2 929.8 218.3C936.4 231.3 937.1 236.2 939.8 245.7C942.5 255.3 944.6 265.7 946 275.7C947.5 285.7 948.1 298.3 948.5 305.7C948.9 313 948.5 317.5 948.5 319.9"/>
<path d="M735.7 102.9C737.6 101.9 742.4 98.4 746.7 96.6C751.1 94.9 756.8 93.2 761.7 92.4C766.7 91.6 771.5 91.3 776.4 91.7C781.4 92 785.8 93 791.4 94.7C797 96.3 803.5 98.6 809.9 101.6C816.3 104.7 823.2 108.7 829.9 113.1C836.5 117.5 843.2 122.6 849.9 128.1C856.5 133.7 863.2 139.4 869.8 146.3C876.5 153.3 881.1 157.4 889.8 169.8C898.6 182.2 915.2 208.1 922.3 220.8C929.4 233.4 929.4 236.2 932.3 245.7C935.1 255.3 937.8 267.8 939.3 278.2C940.7 288.6 941 298.2 941 308.2C941 318.2 940.7 329 939.3 338.1C937.8 347.3 935.5 356 932.3 363.1C929 370.2 926 375.9 919.8 380.6C913.5 385.3 899 389.8 894.8 391.6"/>
<path d="M731.7 107.9C733.4 106.8 737.6 103.5 741.7 101.6C745.9 99.8 751.8 97.7 756.7 96.6C761.7 95.6 766.5 95.3 771.4 95.4C776.4 95.5 781.1 96.1 786.4 97.4C791.7 98.7 797 100.2 803.2 103.1C809.3 106.1 816.5 110.4 823.1 114.9C829.8 119.3 836.5 124.3 843.1 129.9C849.8 135.4 856.1 141.2 863.1 148.1C870.1 155 875.8 159 884.8 171.1C893.9 183.2 910.2 208.3 917.3 220.8C924.4 233.2 924.6 236.6 927.3 245.7C930 254.9 932.2 265.7 933.5 275.7C934.9 285.7 935.3 295.7 935.3 305.7C935.3 315.7 934.9 326.9 933.5 335.7C932.2 344.4 930.4 351.1 927.3 358.1C924.2 365.2 920.6 372.5 914.8 378.1C909 383.7 896.1 389.3 892.3 391.6"/>
<path d="M731.7 107.9C734.2 107.7 741.5 107 746.7 106.9C752 106.8 757.1 106.6 763.2 107.4C769.3 108.2 776.5 109.6 783.2 111.6C789.8 113.7 796.5 116.5 803.2 119.9C809.8 123.2 816.5 127.2 823.1 131.6C829.8 136.1 836.5 141.1 843.1 146.6C849.8 152.1 857 159.2 863.1 164.8C869.2 170.5 873.7 172.1 879.8 180.6C886 189.1 895.9 206.6 899.8 215.8C903.8 225 902.6 229.2 903.6 235.8C904.5 242.3 905.2 251.8 905.6 255"/>
<path d="M720 114.9C722.8 114.5 730.6 112.8 736.7 112.4C742.9 112 750.1 111.7 756.7 112.4C763.3 113.1 769.8 114.5 776.4 116.6C783.1 118.7 789.8 121.5 796.4 124.9C803.1 128.2 809.7 132.2 816.4 136.6C823.1 141 829.7 145.8 836.4 151.3C843 156.9 850.4 164 856.4 169.8C862.4 175.6 866.6 178 872.3 186.1C878.1 194.1 887.3 209.6 891.1 218.3C894.8 227 894 231.3 894.8 238.3C895.7 245.2 895.9 256.6 896.1 260.2"/>
<path d="M720 129.1C722.8 129.3 731.2 129 736.7 130.1C742.3 131.2 747.1 133.3 753.2 135.6C759.3 137.9 766.5 140.8 773.2 144.1C779.9 147.4 786.5 151 793.2 155.6C799.8 160.2 807 166.5 813.2 171.6C819.3 176.7 823.4 179.4 829.9 186.3C836.4 193.3 847.2 205.5 852.4 213.3C857.6 221.1 858.9 226.2 861.1 233.3C863.3 240.3 864.5 248.4 865.3 255.7C866.2 263 866.2 273.4 866.3 277"/>
<path d="M919.8 157.3L901.1 166.8"/>
<path d="M927.3 164.1L906.1 174.8"/>
<path d="M919.8 157.3C921 158.5 924.4 161.6 927.3 164.1C930.2 166.6 934.6 169.1 937.3 172.3C940 175.6 942.4 179.6 943.5 183.6C944.6 187.5 943.9 193.8 944 195.8"/>
<path d="M944 192.3L937.3 195.8"/>
<path d="M640.1 409.2L905.6 255.2"/>
<path d="M948.5 320.1C949.1 321.9 952.2 327.4 951.8 330.9C951.3 334.3 947.4 337.9 946 340.8C944.6 343.8 943.7 345.8 943.5 348.3C943.3 350.8 945.4 353.5 944.8 355.8C944.1 358.1 941.9 360 939.8 362.1C937.7 364.2 935.6 365 932.3 368.3C928.9 371.7 925.6 378.1 919.8 382.1C914 386 901.1 390.2 897.3 391.8"/>
<path d="M921 203.5L939.8 193.5"/>
<path d="M927.3 213L946 203.5"/>
<path d="M932.3 221L949.8 212.2"/>
<path d="M938.5 231L949.8 220.5"/>
<path d="M944 192.5C944.8 194.5 947.9 201.7 948.5 204.7C949.1 207.8 947.6 209.3 947.8 211C948 212.6 949.4 213.1 949.8 214.7C950.1 216.3 949.8 219.5 949.8 220.5"/>
<path d="M676.2 514.9L806.1 440.7L892.7 391"/>
<path d="M806.1 440.7L814.8 452.4L842.3 499.4"/>
<path d="M814.8 452.4L688.7 522.9"/>
<path d="M722.4 579.5L803.6 533.8"/>
<path d="M736.1 583.7L803.6 546.7"/>
<path d="M677.5 663.6L686.2 659.4"/>
<path d="M744.9 662.4L739.9 664.9"/>
<path d="M744.9 662.4L892.3 573.6"/>
<path d="M744.9 669.9L892.3 584.9"/>
<path d="M892.3 584.9C892.3 588.6 893.2 601.9 892.3 607.3C891.5 612.8 890.2 614.2 887.3 617.3C884.4 620.5 880.2 624 874.8 626.1C869.4 628.2 861.1 629.4 854.9 629.8C848.6 630.2 842.6 629.6 837.4 628.6C832.2 627.5 825.9 624.4 823.6 623.6"/>
<path d="M884.8 616.1C882.7 617.3 877.3 621.8 872.3 623.6C867.3 625.4 860.7 626.5 854.9 626.8C849 627.1 842.4 626.1 837.4 625.3C832.4 624.6 827 622.8 824.9 622.3"/>
<path d="M804.2 521.2L804.2 561.1A43.2 22 0 0 0 890.6 561.1L890.6 521.2" fill="#fff"/>
<path d="M891.1 536.2L893.6 538.7L893.6 547.4L891.1 548.7"/>
<path d="M892.3 571.6L894.1 574.9L894.1 583.6L892.3 584.9"/>
<path d="M803.7 532.4C805.1 534.5 808 541.2 812.4 544.9C816.8 548.6 823.2 552.4 829.9 554.4C836.5 556.4 844.9 557.3 852.4 556.9C859.9 556.5 868.8 554.3 874.8 551.9C880.9 549.5 885.7 545.2 888.6 542.4C891.4 539.6 891.3 536.2 891.8 534.9"/>
<path d="M804.9 524.9C806.2 527 808.2 533.9 812.4 537.4C816.6 541 823.6 544.3 829.9 546.2C836.1 548 843.2 548.9 849.9 548.7C856.5 548.4 864 547 869.8 544.9C875.7 542.8 881.3 539.3 884.8 536.2C888.4 533 890 527.8 891.1 526.2"/>
<ellipse cx="847.4" cy="521.2" rx="43" ry="23" fill="#fff"/>
<ellipse cx="847.4" cy="521.2" rx="16.2" ry="9.5"/>
<ellipse cx="847.9" cy="521.7" rx="13" ry="7.5"/>
<path d="M665 664.9L665 689.8A44.3 20.5 0 0 0 753.6 689.8L753.6 664.9" fill="#fff"/>
<path d="M686.2 659.4L686.2 668.6L677.5 672.4L673.7 669.9L673.7 662.4"/>
<path d="M732.4 659.4L732.4 668.6L739.9 671.1L744.9 669.9L744.9 662.4"/>
<path d="M686.2 662.4C688.9 663 697.2 665.5 702.4 666.1C707.6 666.7 712.4 666.7 717.4 666.1C722.4 665.5 729.9 663 732.4 662.4"/>
<path d="M686.2 668.6C689.3 669.1 699.3 671.3 704.9 671.6C710.6 671.9 715.4 671.1 719.9 670.4C724.4 669.7 729.9 667.9 731.9 667.4"/>
<path d="M665 604.9L665 647.4A44.3 15.5 0 0 0 753.6 647.4L753.6 604.9" fill="#fff"/>
<path d="M666.2 617.4C668.1 619.3 672.3 625.5 677.5 628.7C682.7 631.8 689.9 635.2 697.4 636.1C704.9 637.1 714.9 636.1 722.4 634.4C729.9 632.7 737.3 629.4 742.4 626.2C747.5 622.9 751.1 616.8 752.9 614.9"/>
<path d="M667.5 612.4C669.1 614.1 672.5 619.7 677.5 622.4C682.5 625.1 690.4 627.8 697.4 628.7C704.5 629.5 712.8 628.9 719.9 627.4C727 626 734.7 622.8 739.9 619.9C745.1 617 749.3 611.6 751.1 609.9"/>
<ellipse cx="709.4" cy="604.9" rx="44.2" ry="26.2" fill="#fff"/>
<ellipse cx="709.4" cy="601.2" rx="15.5" ry="9.5"/>
<ellipse cx="709.9" cy="601.7" rx="12.5" ry="7.5"/>
<path d="M551.6 560.8L608.2 592.5"/>
<path d="M553.3 575C554.3 574.5 557.4 573.1 559.1 572C560.8 570.9 562.9 568.9 563.6 568.3"/>
<path d="M553.3 581.6C555 581.1 560.5 579.9 563.3 578.3C566.1 576.7 568.8 573 569.9 572"/>
<path d="M553.3 586.6C555.2 586.1 561.1 585.3 565 583.3C568.8 581.3 574.7 576 576.6 574.5"/>
<path d="M565 560C565.5 561.4 566.3 566 568.3 568.3C570.2 570.7 575.2 573.2 576.6 574.2"/>
<path d="M571.6 560C572 561.1 573 564.4 574.1 566.7C575.2 568.9 577.6 572.5 578.3 573.7"/>
<path d="M594.9 585L626.6 639.9"/>
<path d="M626.6 639.9C626.9 640.4 627.7 641.9 628.6 642.7C629.4 643.6 631.1 644.6 631.6 644.9"/>
<path d="M631.6 644.9L673.7 670.1"/>
<path d="M608.2 592.5L631.6 631.6"/>
<path d="M631.6 631.6C632 632.4 633.4 635.2 634.5 636.6C635.7 638 637.6 639.4 638.2 639.9"/>
<path d="M638.2 639.9L677.5 663.7"/>
<path d="M631.6 632.4L664.8 613.3"/>
<path d="M638.2 639.9L665.7 625.8"/>
<clipPath id="c_t_boss"><rect x="480" y="336" width="40" height="94"/><rect x="520" y="336" width="80" height="64"/></clipPath><g clip-path="url(#c_t_boss)"><path d="M488.1 350L488.1 394.9"/>
<path d="M495.6 350L495.6 393.7"/>
<path d="M523.1 335L523.1 403.7"/>
<path d="M484.4 358.7L484.4 407.4L485.2 409.9L487.2 411.8L491.2 413L497.5 412.4"/>
<path d="M484.4 358.7L482.5 355L480 352.7"/>
<path d="M480 345L483.7 347.5L487.5 351.2L485 354.3L480 352.5"/>
<path d="M488.1 394.9L491.2 393.7L495.6 393.7L506.8 401.8L507.5 407.4L502.5 409.9L497.5 412.4"/>
<path d="M488.1 394.9L486.9 399.3L488.1 403.7L497.5 411.2"/>
<path d="M495.6 393.7L495 398.1L491.9 402.4L491.9 405.2"/>
<path d="M507.5 406.8L520 405.8L523.1 403.4L528.1 406.4L524 411.8L520 405.8"/>
<path d="M502.5 409.9L503.7 417.4L509.3 421.2L523.1 419.3L524 411.8"/>
<path d="M506.8 409.9L508.1 418.7L510 420.9"/>
<path d="M501.2 411.2L502.5 418.7L506.8 423"/>
<path d="M478.1 429.9C479.7 428.2 484.5 422.7 487.5 419.9C490.5 417.1 493.7 414.7 496.2 413C498.7 411.4 501.4 410.4 502.5 409.9"/>
<path d="M497.5 429.9C499.1 428.8 503.2 424.8 507.5 423C511.7 421.3 518.9 419.8 523.1 419.3C527.2 418.8 528.8 419.3 532.4 419.9C536.1 420.5 540.8 421.7 544.9 423C549.1 424.4 554.6 426.8 557.4 427.9C560.2 429 561.1 429.6 561.8 429.9"/>
<path d="M524 413.4C525.6 413.7 530.2 414 533.7 414.9C537.2 415.8 541.4 417.2 544.9 418.7C548.5 420.1 552.4 422.1 554.9 423.7C557.4 425.2 558.7 426.9 559.9 427.9C561.2 428.9 562 429.6 562.4 429.9"/>
<path d="M523.1 333.7C526.3 336.9 537.1 346.9 542.4 352.5C547.7 358.1 551.2 362.5 554.9 367.5C558.7 372.5 562 377.5 564.9 382.4C567.8 387.4 569.9 392 572.4 397.4C574.9 402.8 578 409.8 579.9 414.9C581.8 420 582.9 425.4 583.6 427.9C584.3 430.4 584.1 429.6 584.1 429.9"/>
<path d="M523.1 341.2C525.7 343.7 534 351.2 538.7 356.2C543.4 361.2 547.4 366.2 551.2 371.2C554.9 376.2 558.3 381.2 561.2 386.2C564.1 391.2 566.4 396.2 568.7 401.2C570.9 406.2 573.2 411.7 574.9 416.2C576.6 420.6 577.9 425.6 578.6 427.9C579.4 430.2 579.1 429.6 579.1 429.9"/>
<path d="M523.1 348.7L544.9 373.7"/>
<path d="M523.1 361.2L530.6 370L530.6 381.8L524.3 379.9"/>
<path d="M530.6 381.8L538.7 378.1L544.3 375"/>
<path d="M544.9 373.7L538.7 378.1L536.8 388.7L537.4 392.4L548.1 393.7L549.9 384.9L547.4 379.9L539.3 382.4"/>
<path d="M537.4 392.4L526.2 396.8L525 402.4"/>
<path d="M548.1 393.7L528.1 406.4"/>
<path d="M530.6 381.8L526.8 392.4L525 402.4"/>
<path d="M537.4 392.4L542.4 399.9L570.9 429.9"/>
<path d="M548.1 393.7L573.4 429.9"/>
<path d="M549.9 384.9L567.4 417.4L572.7 429.9"/></g>
<clipPath id="c_t_c"><rect x="432" y="240" width="108" height="45"/><rect x="420" y="266" width="12" height="19"/><rect x="460" y="285" width="80" height="35"/></clipPath><g clip-path="url(#c_t_c)"><path d="M396.6 302.4C398.6 300.9 404.1 295.5 408.3 293.3C412.5 291.1 416.6 289.9 421.6 289.1C426.6 288.3 432.7 288.2 438.3 288.6C443.8 289 449.1 290 454.9 291.6C460.7 293.2 470.2 297.2 473.2 298.3"/>
<path d="M400.8 307.4C402.9 306 408.7 300.4 413.3 298.6C417.9 296.8 422.7 296.5 428.3 296.6C433.8 296.7 440.8 297.7 446.6 299.1C452.4 300.5 458.8 303.1 463.2 304.9C467.7 306.7 471.6 309.1 473.2 309.9"/>
<path d="M429.9 297.4C432.7 298.1 441 299.5 446.6 301.6C452.1 303.7 458.9 307.4 463.2 309.9C467.5 312.4 470.9 315.5 472.4 316.6"/>
<path d="M380 296.6C381.7 298.1 386.4 303.8 390 305.8C393.6 307.7 396.9 307 401.6 308.3C406.4 309.5 412.7 310.8 418.3 313.3C423.8 315.8 430.2 319.9 434.9 323.2C439.7 326.6 443.5 330.1 446.6 333.2C449.6 336.3 452.1 340.5 453.3 341.9"/>
<path d="M380 306.6C381.7 307.7 386.4 311.9 390 313.3C393.6 314.6 397.5 313.8 401.6 314.9C405.8 316 410.2 317.4 415 319.9C419.7 322.4 425.5 326.3 429.9 329.9C434.4 333.5 438.8 338.2 441.6 341.6C444.4 344.9 445.8 348.5 446.6 349.9"/>
<path d="M380 323.2C382.2 323.8 388.6 324.9 393.3 326.6C398 328.2 403.6 330.5 408.3 333.2C413 336 418 339.9 421.6 343.2C425.2 346.6 428 349.9 429.9 353.2C431.9 356.5 432.7 361.5 433.3 363.2"/>
<path d="M380 333.2C381.9 333.8 387.5 334.9 391.7 336.6C395.8 338.2 400.8 340.5 405 343.2C409.1 346 413.6 349.9 416.6 353.2C419.7 356.5 421.9 360.4 423.3 363.2C424.7 366 424.7 368.9 425 370"/>
<path d="M406.6 359.9L446.6 337.4"/>
<path d="M410 370L458.3 342.4"/>
<path d="M458.3 342.4C459.6 342.3 464.1 341.3 466.6 341.6C469.1 341.8 471 342.9 473.2 344.1C475.5 345.2 477.7 347.2 479.9 348.2C482.1 349.2 485.4 349.6 486.6 349.9"/>
<path d="M459.9 338.2C460.5 336.8 461.4 332.1 463.2 329.9C465.1 327.7 469.5 326 470.7 325.2"/>
<path d="M453.3 341.9C454.4 341.6 456.6 340.8 459.9 339.9C463.2 339 471 337.1 473.2 336.6"/>
<path d="M479.9 348.2C480.7 349.3 483.8 352.4 484.9 354.9C486 357.4 486.3 360.7 486.6 363.2C486.8 365.7 486.6 368.9 486.6 370"/>
<path d="M421.6 370C423 369 426.9 365.3 429.9 364C433 362.8 436.6 362.2 439.9 362.4C443.3 362.5 446.9 363.6 449.9 364.9C453 366.1 456.9 369.2 458.3 370"/>
<path d="M494.9 349.9L494.9 370"/>
<path d="M523.2 339.9L523.2 370"/>
<path d="M524.8 333.2L540 346.6"/>
<path d="M524.8 339.9L540 354.9"/>
<path d="M524.8 353.2L536.5 363.2"/></g>
<clipPath id="c_t_c2"><rect x="404" y="360" width="76" height="70"/><rect x="460" y="320" width="20" height="40"/><rect x="480" y="320" width="60" height="16"/></clipPath><g clip-path="url(#c_t_c2)"><path d="M411.6 362.4L421.6 359.1L429.9 354.1L451.6 343.3L466.6 333.3L540 333.3L540 430L447.4 430L447.4 393.2Z" fill="#fff" stroke="none"/>
<path d="M411.6 362.4C413.3 361.9 418.3 359.9 421.6 359.1C425 358.3 428 357.3 431.6 357.4C435.2 357.6 439.7 358.1 443.3 359.9C446.9 361.7 450.6 365.2 453.3 368.3C455.9 371.3 458 374.6 459.1 378.3C460.2 381.9 459.8 388 459.9 389.9"/>
<path d="M429.9 356.6C431.6 356.7 436.6 356.1 439.9 357.4C443.3 358.8 447.2 362 449.9 364.9C452.7 367.8 455.2 371 456.6 374.9C458 378.8 458 386 458.3 388.2"/>
<path d="M451.6 343.3C453 343.1 456.9 341.9 459.9 342.5C463 343 466.9 344.3 469.9 346.6C473 349 476.1 353.3 478.2 356.6C480.3 359.9 481.6 363.4 482.4 366.6C483.2 369.8 483.1 374.2 483.2 375.8"/>
<path d="M451.6 343.3L429.9 354.1"/>
<path d="M483.2 375.8L458.3 389.1L447.4 393.2"/>
<path d="M464.9 342.5C466.3 343.4 470.7 345.9 473.2 348.3C475.7 350.6 478.1 353.8 479.9 356.6C481.7 359.4 483.4 363.5 484.1 364.9"/>
<path d="M447.4 393.2L447.4 431.5"/>
<path d="M449.9 391.9L449.9 431.5"/>
<path d="M457.4 389.9L457.4 431.5"/>
<path d="M459.9 389.1L459.9 431.5"/>
<path d="M484.1 354.9L484.1 406.6L485.2 409.6L488.2 411.6L493.2 411.9L503.2 408.2"/>
<path d="M486.6 351.6L486.6 399.9"/>
<path d="M486.6 399.9L488.2 396.2L490.7 394.6L494.9 394.1L504.9 400.4L508.2 405.7"/>
<path d="M496.5 349.9L496.5 394.1"/>
<path d="M523.2 340L523.2 401.6"/>
<path d="M486.6 399.9L487.9 405.7L490.7 409.1L494.9 409.9L503.2 408.2L508.2 405.7"/>
<path d="M503.2 408.2L506.5 416.5L511.5 418.2L523.2 416.5L519.9 406.6L523.2 401.6"/>
<path d="M481.6 431.5C482.7 429.6 485.7 422.9 488.2 419.9C490.7 416.8 493.9 415 496.5 413.2C499.2 411.4 502.8 409.7 504 409.1"/>
<path d="M540 430C538.3 428.6 532.6 423.8 529.8 421.5C527 419.3 524.3 417.4 523.2 416.5"/>
<path d="M524.8 333.3L540 346.6"/>
<path d="M524.8 341.6L540 354.9"/>
<path d="M524.8 351.6L533.2 359.1L540 357.4"/>
<path d="M524.8 354.9L530.7 363.3L530.7 378.3L526.5 398.2"/>
<path d="M530.7 378.3L540 373.3"/>
<path d="M525.7 399.9L540 393.2"/>
<path d="M380 308.3C382.8 308.6 391.1 308.3 396.6 310C402.2 311.7 408 315 413.3 318.3C418.6 321.6 423.3 326.4 428.3 330C433.3 333.6 439.4 337.8 443.3 340C447.2 342.1 450.2 342.5 451.6 343"/>
<path d="M400 306.7C402.8 307.5 411.1 309.2 416.6 311.7C422.2 314.2 428.3 318 433.3 321.6C438.3 325.3 442.4 330 446.6 333.3C450.8 336.6 456.3 340.2 458.3 341.6"/>
<path d="M458.3 341.6C458.5 340.5 458.8 337 459.9 335C461 332.9 462.8 330.8 464.9 329.1C467 327.5 471.2 325.7 472.4 325"/>
<path d="M458.3 341.6L473.2 338.3"/>
<path d="M463.2 341.6C464.9 342.5 469.9 345 473.2 346.6C476.6 348.3 481.6 350.8 483.2 351.6"/></g>
<path d="M312.5 522.4L438.6 451.2"/>
<path d="M339.9 506.9C342.9 506.8 351.2 505.5 357.4 506.2C363.7 506.9 370.7 508.4 377.4 511.2C384.1 513.9 391.1 517.8 397.4 522.4C403.6 527 409.9 533 414.9 538.6C419.9 544.2 424 550.5 427.3 556.1C430.7 561.7 433 568.2 434.8 572.3C436.7 576.5 437.1 578.8 438.6 581.1C440 583.4 441.6 585.4 443.6 586.3C445.5 587.3 449.2 586.7 450.3 586.8"/>
<path d="M312.5 522.4C312.7 521.4 312.5 518.4 313.7 516.1C315 513.9 317.9 510.6 320 509.2C322 507.7 323.9 507.4 326.2 507.4C328.5 507.4 332.4 508.9 333.7 509.2"/>
<path d="M320 509.2C320.2 509.8 319.9 512.3 321.2 512.9C322.5 513.5 326.8 512.9 328 512.9"/>
<ellipse cx="364" cy="608" rx="98" ry="61.5" transform="rotate(60.6 364 608)"/>
<ellipse cx="365" cy="608" rx="94" ry="57.5" transform="rotate(60.6 365 608)"/>
<ellipse cx="365" cy="610" rx="27" ry="17" transform="rotate(60 365 610)"/>
<ellipse cx="365.5" cy="610" rx="25" ry="15.5" transform="rotate(60 365.5 610)"/>
<ellipse cx="366" cy="610" rx="23" ry="14" transform="rotate(60 366 610)"/>
<ellipse cx="363" cy="610.5" rx="17.5" ry="10.5" transform="rotate(60 363 610.5)"/>
<ellipse cx="349.3" cy="663.8" rx="6.2" ry="8" transform="rotate(-15 349.3 663.8)"/>
<ellipse cx="372.6" cy="677.6" rx="6.2" ry="8" transform="rotate(-15 372.6 677.6)"/>
<path d="M312.5 522.4L429.8 456.2"/>
<path d="M420 460.8C421.7 459.7 426.7 455.7 430 454.2C433.3 452.6 436.1 451.9 440 451.7C443.9 451.4 448.3 451.4 453.3 452.5C458.3 453.6 464.4 455.7 469.9 458.3C475.5 461 481 464.4 486.6 468.3C492.1 472.2 498.3 476.9 503.2 481.6C508.2 486.3 512.4 491.3 516.6 496.6C520.7 501.9 524.6 507.4 528.2 513.3C531.8 519.1 535.2 525.5 538.2 531.6C541.3 537.7 544.2 543.5 546.5 549.9C548.9 556.3 551.1 563.9 552.4 570C553.6 576.2 554.1 581.2 554 586.7C554 592.2 553 598.7 552 603.2C551.1 607.6 549.7 610 548.2 613.3C546.7 616.6 544.8 620.3 542.9 623.1C540.9 626 537.6 629.4 536.5 630.6"/>
<path d="M438.3 453.3C440.8 453.7 448 454.2 453.3 455.8C458.6 457.5 464.4 460.3 469.9 463.3C475.5 466.4 481.3 470 486.6 474.1C491.9 478.3 497.1 483.4 501.6 488.3C506 493.1 509.4 498 513.2 503.3C517.1 508.5 521.3 514.1 524.9 519.9C528.5 525.7 532.2 532.4 534.9 538.2C537.5 544.1 539 549.1 540.7 554.9C542.4 560.7 544.1 567.9 544.9 573.2C545.6 578.5 545.3 582 545.2 586.7C545.1 591.4 544.7 596.9 544 601.5C543.4 606 542.7 609.5 541.2 614C539.7 618.5 535.9 625.9 534.9 628.3"/>
<path d="M420 465C422.2 465.1 428.9 464.8 433.3 465.8C437.8 466.8 441.9 468.4 446.6 470.8C451.4 473.2 456.6 476.2 461.6 480C466.6 483.7 471.9 488.6 476.6 493.3C481.3 498 485.8 503.3 489.9 508.3C494.1 513.3 498.3 518.8 501.6 523.2C504.9 527.7 508.1 531.8 509.9 534.9C511.7 538 512.1 539.3 512.4 541.6C512.7 543.8 512.5 546.1 511.6 548.2C510.6 550.3 507.4 553.1 506.6 554"/>
<path d="M450.3 586.8L506.6 554"/>
<path d="M509.9 480C511.6 479.8 516.6 478.6 519.9 479.1C523.2 479.7 526.8 480.9 529.9 483.3C532.9 485.6 535.7 489.4 538.2 493.3C540.7 497.2 543.1 501.6 544.9 506.6C546.7 511.6 548.1 518 549 523.2C550 528.5 550.7 533.7 550.7 538.2C550.7 542.7 549.3 548.2 549 550.2"/>
<path d="M514.9 486.6C516 486.8 519.3 486.3 521.6 487.5C523.8 488.6 526.3 490.6 528.2 493.3C530.2 495.9 532.2 500.1 533.2 503.3C534.3 506.5 534.3 510.9 534.5 512.4"/>
<path d="M510.7 480.8C512.8 483.4 519.2 491.2 523.2 496.6C527.2 502 531.6 507.4 534.9 513.3C538.2 519.1 540.8 525.3 543.2 531.6C545.6 537.8 547.6 545.9 549 550.7C550.5 555.5 551.4 558.6 551.9 560.2"/>
<path d="M551.9 560.2L564.8 568.2"/>
<path d="M417.3 689.1L536.5 630.6"/>
<path d="M637.4 479.7L667.3 497.4"/>
<path d="M619.9 472.5C617 473.1 607.8 473.7 602.4 476.2C597 478.7 592 482.7 587.4 487.5C582.9 492.2 578.5 498.7 574.9 504.9C571.4 511.2 568.2 518.3 566.2 524.9C564.2 531.6 563.2 539.1 563 544.9C562.7 550.7 563.8 555.7 565 559.9C566.1 564 569.1 568.2 569.9 569.9"/>
<path d="M623.6 474.2C620.5 475 610.3 476.5 604.9 479.2C599.5 481.9 595.5 485.7 591.2 490.4C586.8 495.2 582.2 501.9 578.7 507.9C575.2 514 571.9 520.4 569.9 526.7C568 532.9 567.2 539.6 567 545.4C566.7 551.2 568.4 558.9 568.7 561.6"/>
<path d="M602.4 477.5C605.3 477.4 614.1 476.6 619.9 477C625.7 477.3 634.5 479 637.4 479.5"/>
<path d="M637.4 479.5L667.3 497.4"/>
<path d="M598.7 487.5L627.4 503.7L667.3 497.4"/>
<path d="M627.4 503.7C626.8 506 626.3 511 623.6 517.4C620.9 523.9 615.1 536.8 611.2 542.4C607.2 548 601.8 549.7 599.9 551.1"/>
<path d="M598.7 487.5C596.6 490.4 590.3 498.7 586.2 504.9C582 511.2 576.4 519.7 573.7 524.9C571 530.1 570.6 534.3 569.9 536.1"/>
<path d="M569.9 536.1L599.9 551.1L609.2 591.1"/>
<path d="M569.9 536.1L578.7 572.4L609.2 591.1L624.9 589.3"/>
<path d="M667.3 497.4C667.8 498.8 669.3 502.5 670.3 505.4C671.4 508.3 673 513.3 673.6 514.9"/>
<path d="M659.9 501.2C657.4 502 649.9 503.5 644.9 506.2C639.9 508.9 634.5 512.6 629.9 517.4C625.3 522.2 620.5 529.5 617.4 534.9C614.3 540.3 612.6 544.5 611.2 549.9C609.7 555.3 608.9 562.4 608.7 567.4C608.4 572.4 609.1 576.1 609.9 579.9C610.7 583.6 613 588.2 613.7 589.8"/>
<path d="M666.1 507.4C663.4 508.3 655.1 509.7 649.9 512.4C644.7 515.1 639.3 519.1 634.9 523.7C630.5 528.2 626.6 534.7 623.6 539.9C620.7 545.1 618.6 549.5 617.4 554.9C616.1 560.3 615.7 567 616.1 572.4C616.6 577.8 619.3 584.8 619.9 587.3"/>
<path d="M669.8 511.9C667.3 512.6 659.9 513.8 654.9 516.2C649.9 518.5 644.2 521.8 639.9 526.2C635.5 530.5 631.6 537.2 628.6 542.4C625.7 547.6 623.9 552 622.4 557.4C620.9 562.8 620.1 569.9 619.9 574.9C619.7 579.8 620.9 584.8 621.1 586.8"/>
<path d="M672.8 514.4L703.6 532.9"/>
<path d="M619.9 587.3L662.4 607.8"/>
<ellipse cx="684.1" cy="569.9" rx="41" ry="24" transform="rotate(-59.6 684.1 569.9)" fill="#fff"/>
<ellipse cx="684.1" cy="570.4" rx="27.9" ry="17.4" transform="rotate(-59.6 684.1 570.4)"/>
<clipPath id="c_t_hub"><rect x="180" y="250" width="100" height="100"/><rect x="280" y="270" width="36" height="80"/><rect x="180" y="350" width="10" height="30"/><rect x="310" y="350" width="6" height="30"/></clipPath><g clip-path="url(#c_t_hub)"><path d="M243.3 249.2L243.3 270.3"/>
<path d="M257.4 249.2L257.4 275"/>
<path d="M274.1 249.2L274.1 280.8"/>
<path d="M243.3 270.3C244.4 270.3 247.6 269.2 249.9 270C252.3 270.8 256.2 274.1 257.4 275"/>
<path d="M243.8 273.3C244.2 274.3 245.3 277.6 246.6 279.1C247.9 280.7 250.1 282.6 251.6 282.8C253.1 283 254.8 281.6 255.8 280.3C256.7 279 257.1 275.9 257.4 275"/>
<path d="M257.4 275C258.9 275.8 263.8 278.6 266.6 280C269.4 281.4 271.6 282.7 274.1 283.3C276.6 283.9 279.6 283.6 281.6 283.3C283.5 283 285 281.9 285.7 281.6"/>
<path d="M251.6 282.8L272.4 294.1"/>
<path d="M272.4 294.1C273 294.5 274.9 295.6 275.7 296.6C276.6 297.6 277.1 299.4 277.4 299.9"/>
<path d="M243.8 272.5L228.3 285.8"/>
<path d="M251.9 283.3L238.3 297.5"/>
<path d="M266.6 291.6L253.3 306.6"/>
<path d="M277.4 299.9C274.5 303 264.8 312.4 259.9 318.3C255.1 324.1 251.3 329.6 248.3 334.9C245.2 340.2 243.4 347.1 241.6 349.9C239.8 352.7 238.1 351.6 237.4 351.9"/>
<path d="M196.6 289.1C197.5 288.3 199.6 285.2 201.6 284.1C203.7 283 206.8 282.3 209.1 282.5C211.5 282.6 214.7 284.5 215.8 285"/>
<path d="M215.8 285L246.6 304.1"/>
<path d="M246.6 304.1C247 304.8 248.8 306.5 249.1 308.3C249.4 310.1 248.9 313 248.6 314.9C248.3 316.9 248.2 318.4 247.4 319.9C246.7 321.5 245.9 323.3 244.1 324.1C242.3 324.9 239 325.3 236.6 324.9C234.2 324.5 231.1 322.1 229.9 321.6"/>
<path d="M229.9 321.6L197.5 303.3"/>
<path d="M197.5 303.3C197 302.4 194.8 300.6 194.7 298.3C194.5 295.9 196.3 290.7 196.6 289.1"/>
<path d="M200 288L245.8 315.3"/>
<path d="M198.3 292.5L244.1 319.1"/>
<path d="M200.8 298.6L235.3 318.3"/>
<path d="M214.1 285L215 291.6L244.1 308.3"/>
<path d="M235.3 318.3L235.8 324.4"/>
<path d="M238.3 319.6L238.3 324.8"/>
<path d="M244.1 308.3C244.7 308.6 247.4 308.2 247.9 309.9C248.5 311.7 248.1 317 247.4 318.6C246.8 320.2 244.7 319.4 244.1 319.6"/>
<path d="M212.5 315.8C211.8 317.6 209.4 323.1 208.3 326.6C207.2 330.1 206.1 333.5 205.8 336.6C205.5 339.6 205.7 342.4 206.6 344.9C207.6 347.4 208.9 349.3 211.6 351.6C214.4 353.8 220 356 223.3 358.2C226.6 360.4 229.7 362.4 231.6 364.9C233.6 367.4 234.4 370.4 234.9 373.2C235.5 376 234.9 380.1 234.9 381.5"/>
<path d="M225 321.6C224.3 323.5 221.8 330.1 220.8 333.2C219.8 336.4 219.4 339.5 219.1 340.7"/>
<path d="M205.8 338.2C206.9 338.2 210.2 337.8 212.5 338.2C214.7 338.7 218 340.3 219.1 340.7"/>
<path d="M219.1 340.7L237.4 351.6L245.3 352.9"/>
<path d="M219.1 340.7C218.8 341.7 218.6 344.8 217.5 346.6C216.4 348.3 213.3 350.5 212.5 351.2"/>
<path d="M180 353.2L205.8 339.1"/>
<path d="M180 369.9L213.3 351.9"/>
<path d="M195.8 381.5L229.9 361.2"/>
<path d="M215.8 381.5L234.9 370.2"/>
<path d="M285.7 288.3C285 290 284.8 294.1 281.6 298.3C278.4 302.4 271 308 266.6 313.3C262.1 318.5 258 324.4 254.9 329.9C251.9 335.5 249.6 341 248.3 346.6C246.9 352.1 246.6 357.4 246.6 363.2C246.6 369 248 378.5 248.3 381.5"/>
<path d="M296.5 295.8C294.3 297.5 287.7 301.8 283.2 305.8C278.8 309.8 273.9 315.5 269.9 319.9C265.9 324.4 261.6 327.4 259.1 332.4C256.6 337.4 255.9 344.2 254.9 349.9C254 355.6 253.4 361.3 253.3 366.5C253.1 371.8 254 379 254.1 381.5"/>
<path d="M259.1 332.4L303.2 356.6"/>
<path d="M296.5 295.8L323.2 308.6"/>
<path d="M296.5 295.8L318.2 305.8"/>
<path d="M296.5 381.5C297.1 379 298.2 371.5 299.9 366.5C301.5 361.6 303.7 356.6 306.5 351.6C309.4 346.6 315.1 339.1 316.9 336.6"/>
<path d="M299 381.5C299.7 378.8 301.4 370.2 303.2 364.9C305 359.6 307.3 354.3 309.9 349.9C312.4 345.5 317.1 340.2 318.5 338.2"/>
<path d="M323.2 286.6L340 277.5"/>
<path d="M326.5 303.3L340 296.6"/>
<path d="M318.2 336.6L318.2 381.5"/>
<path d="M323.2 381.5C323.2 378.8 322.6 368.3 323.2 364.9C323.7 361.4 325.1 361.7 326.5 360.7C327.9 359.7 329.3 358.6 331.5 359.1C333.8 359.5 338.6 362.5 340 363.2"/></g>
<path d="M450 271.6C452.2 271.2 458 269.4 463 269C468 268.6 474.4 268.4 480 269C485.6 269.6 489.8 270.5 496.5 272.5C503.2 274.5 513.6 278.1 520 281.2C526.4 284.4 530.2 287.7 535 291.2C539.8 294.8 544.6 299 548.8 302.5C552.9 306 556.5 309.6 560 312.5C563.5 315.4 565.8 315.4 570 320C574.2 324.6 580 332.9 585 340C590 347.1 595.4 355 600 362.5C604.6 370 609 378.3 612.5 385C616 391.7 619 398.5 621.2 402.5C623.5 406.5 624.2 407.3 626.2 408.8C628.3 410.2 631.5 411.1 633.8 411.2C636 411.4 639 409.8 640 409.5"/>
<clipPath id="c_t_mid"><rect x="540" y="320" width="140" height="16"/><rect x="600" y="336" width="80" height="64"/><rect x="640" y="400" width="40" height="98"/><rect x="540" y="498" width="140" height="18"/><rect x="440" y="430" width="80" height="86"/><rect x="520" y="498" width="20" height="18"/></clipPath><g clip-path="url(#c_t_mid)"><path d="M524.9 335C528.2 338.3 539.1 347.9 544.9 355C550.7 362 554.9 369.5 559.9 377.4C564.9 385.3 570.3 394.1 574.9 402.4C579.4 410.7 583.8 418.9 587.3 427.4C590.9 435.9 594.6 449.2 596.1 453.6"/>
<path d="M524.4 343.7C527 346.6 534.8 354.5 539.9 361.2C545 367.9 549.9 375.8 554.9 383.7C559.9 391.6 565.3 400.5 569.9 408.7C574.4 416.8 579 425.5 582.4 432.4C585.7 439.3 588.6 447 589.8 449.9"/>
<path d="M523.7 352.5C524.9 353.7 527.6 355.8 531.2 360C534.7 364.1 540.9 370.8 544.9 377.4C548.8 384.1 551.6 391.8 554.9 399.9C558.2 408 563.2 421.8 564.9 426.1"/>
<path d="M487.5 347.5L487.5 397.4"/>
<path d="M496.2 350L496.2 394.9"/>
<path d="M523.7 335L523.7 402.4"/>
<path d="M483.7 352.5C483.7 360.8 482.7 392.6 483.7 402.4C484.7 412.2 486.8 409.5 489.9 411.2C493.1 412.8 500.4 412.2 502.4 412.4"/>
<path d="M487.5 397.4L493.7 393.7L507.4 403.7L519.9 406.2L527.4 399.9"/>
<path d="M487.5 397.4L488.7 404.9L493.7 409.9L501.2 408.7L507.4 403.7"/>
<path d="M502.4 408.7L504.9 417.4L509.9 421.1L522.4 419.9L521.2 407.4"/>
<path d="M501.2 411.2L502.4 418.6L508.7 421.9"/>
<path d="M531.2 360L531.2 382.4L524.9 399.9"/>
<path d="M531.2 379.9L539.9 377.4L548.6 383.7L548.6 392.4L537.4 393.7L534.9 397.4L524.9 403.7L521.2 406.2L522.4 414.9L564.9 427.4"/>
<path d="M534.9 394.9L564.9 427.4"/>
<path d="M548.6 392.4L576.1 437.4"/>
<path d="M564.9 426.1L567.4 424.4L584.8 435.4L584.3 444.9L576.1 442.9L576.9 437.4L564.9 427.4"/>
<path d="M473.7 452.4C475.2 449.9 479.1 441.7 482.5 437.4C485.8 433 489.3 428.8 493.7 426.1C498.1 423.5 506.2 422.4 508.7 421.6"/>
<path d="M468.7 452.4C470.6 449 474.3 438.4 480 432.4C485.6 426.3 498.7 418.9 502.4 416.1"/>
<path d="M480 432.4L485 437.4"/>
<path d="M508.7 421.9L531.2 419.9L544.9 427.6"/>
<path d="M447.4 394.9L447.4 449.9"/>
<path d="M450 382.4L450 449.9"/>
<path d="M457.4 379.9L457.4 449.9"/>
<path d="M460 379.9L460 449.9"/>
<path d="M440 347.5C442.5 346.6 449.6 343.9 455 342.5C460.4 341 468.3 337.9 472.5 338.7C476.6 339.6 478.1 345.2 480 347.5C481.8 349.8 483.1 351.6 483.7 352.5"/>
<path d="M460 340C460.8 338.3 462.9 332.5 465 330C467.1 327.5 471.2 325.8 472.5 325"/>
<path d="M440 394.9L450 392.4L481.2 376.2L483.7 373.7"/>
<path d="M440 365C441 365.8 444.6 367 446.2 369.9C447.9 372.9 449.4 380.4 450 382.4"/>
<path d="M455 342.5L458 379.9"/></g>
<clipPath id="c_t_tm"><rect x="320" y="100" width="140" height="130"/></clipPath><g clip-path="url(#c_t_tm)"><path d="M296.7 102.5C297.2 102.9 297.8 103.2 300 105C302.2 106.8 306.9 110.3 310 113.3C313 116.4 315.8 120.1 318.3 123.3C320.8 126.5 323.9 130.9 325 132.5"/>
<path d="M296.7 105.3C297.2 105.7 298.1 106 300 107.5C301.9 109 305.5 111.5 308.3 114.2C311.1 116.8 314.2 120.4 316.6 123.3C319.1 126.2 322.2 130.2 323.3 131.6"/>
<path d="M296.7 115.8C297.2 116.1 297.5 116 300 117.5C302.5 119 307.5 122.5 311.7 125C315.8 127.5 322.8 131.2 325 132.5"/>
<path d="M296.7 126.6C297.2 126.8 297.5 127 300 127.5C302.5 128 308 128.8 311.7 129.6C315.3 130.5 319 131.6 321.6 132.5C324.3 133.4 326.5 134.5 327.5 135"/>
<path d="M296.7 129.6C297.2 129.7 297.2 129.5 300 130C302.8 130.4 308.9 131.5 313.3 132.5C317.8 133.4 322.5 134.3 326.6 135.8C330.8 137.3 336.4 140.7 338.3 141.6"/>
<path d="M325 132.5C327.2 134 334.1 137.9 338.3 141.6C342.5 145.4 346.6 150.2 349.9 154.9C353.3 159.7 355.8 164.7 358.3 169.9C360.8 175.2 363 181.3 364.9 186.6C366.9 191.8 368.5 197.1 369.9 201.6C371.3 206 372.3 210.7 373.3 213.2C374.2 215.7 374.6 216 375.8 216.5C376.9 217.1 379.2 216.5 379.9 216.5"/>
<path d="M296.7 164.4C297.2 164.4 297.2 164.2 300 164.1C302.8 164 308.3 163.5 313.3 164.1C318.3 164.7 324.7 165.5 330 167.4C335.2 169.4 340.5 172.6 345 175.8C349.4 178.9 353.3 182.8 356.6 186.6C359.9 190.3 362.6 194.3 364.9 198.2C367.3 202.1 369.4 207.1 370.8 209.9C372.1 212.7 372.8 214 373.3 214.9"/>
<path d="M296.7 172.8C297.2 172.7 296.7 172.6 300 172.4C303.3 172.2 311.1 171 316.6 171.6C322.2 172.1 328 173.5 333.3 175.8C338.6 178 343.8 181.2 348.3 184.9C352.7 188.7 356.6 193.5 359.9 198.2C363.3 202.9 366.3 209.1 368.3 213.2C370.2 217.4 370.8 220.3 371.6 223.2C372.4 226.1 373 229.4 373.3 230.7"/>
<path d="M373.3 214.9C373.6 215.6 374.8 217.8 375.3 219C375.8 220.3 375.7 222.4 376.3 222.5C376.8 222.7 377.9 220.2 378.8 220C379.6 219.9 380.5 220.8 381.2 221.9C382 223 382.6 224.8 383.2 226.5C383.9 228.3 384.6 231.5 384.9 232.5"/>
<path d="M376.3 222.5C376.1 223.2 375.4 225 375.3 226.5C375.1 228 375.3 230.7 375.3 231.5"/>
<path d="M379.9 216.5L404.1 230.7"/>
<path d="M381.6 219.9L399.1 230.7"/></g>
<path d="M323.2 430L323.2 478.3"/>
<path d="M323.2 478.3C323.4 479.4 323.5 483 324.1 484.9C324.6 486.9 324.8 487.7 326.6 489.9C328.4 492.1 331.7 496.1 334.9 498.2C338.1 500.3 343.9 501.7 345.7 502.4"/>
<clipPath id="c_t_w"><rect x="190" y="350" width="120" height="98"/></clipPath><g clip-path="url(#c_t_w)"><path d="M190 363.7L212.5 350.6"/>
<path d="M190 383.7C196.2 380.2 220.4 366.9 227.5 362.5C234.5 358.1 231.2 359.4 232.5 357.5C233.7 355.6 234.3 352.6 235 351.2C235.6 349.9 236.2 349.7 236.5 349.4"/>
<path d="M190 398.1L234.3 372.5"/>
<path d="M190 399.9L233.7 375"/>
<path d="M190 401.8L225.6 381.8"/>
<path d="M211.9 349.8C214.5 351.4 223.9 356.7 227.5 359.4C231 362 231.9 363.5 233.1 365.6C234.3 367.8 234.4 371.1 234.7 372.2"/>
<path d="M244.9 353.7C244.7 354.9 244.6 358.4 243.7 360.6C242.8 362.8 240.8 365 239.3 366.9C237.8 368.7 235.5 370.7 234.7 371.5"/>
<path d="M236.8 349.4C237.8 349.9 241.1 351.4 242.4 352.2C243.8 353.1 244.5 354 244.9 354.4"/>
<path d="M234.7 372.5C235.6 371.9 238.2 371.5 239.9 371.5C241.7 371.5 243.8 371.6 244.9 372.5C246.1 373.4 246.6 375.7 246.8 376.8C247 378 247.3 378.8 246.2 379.3C245 379.9 241.6 380.1 239.9 380C238.3 379.9 237.1 379.6 236.2 378.7C235.3 377.9 235 376 234.7 375C234.5 373.9 233.8 373.1 234.7 372.5Z"/>
<path d="M234.7 375C235.6 375.1 237.9 375.3 239.9 375.6C242 375.9 245.7 376.6 246.8 376.8"/>
<path d="M248.4 348.8C248.2 351 247.1 357.8 246.8 362.5C246.5 367.2 246.8 374.5 246.8 376.8"/>
<path d="M246.8 376.8C247.3 378 248.4 381.5 249.9 383.7C251.5 385.9 253.7 388.3 256.2 390C258.7 391.6 261.8 393 264.9 393.7C268 394.4 272.8 394.4 274.9 394.3C277 394.2 277.2 393.3 277.7 393.1"/>
<path d="M235 378.5C235.4 379.6 236 382.6 237.5 385C238.9 387.3 241.4 390.5 243.7 392.5C246 394.4 248.5 395.9 251.2 396.8C253.9 397.8 256.8 397.9 259.9 398.1C263 398.3 267.6 398.3 269.9 398.1C272.2 397.9 272.6 397.7 273.9 396.8C275.2 396 277 393.7 277.7 393.1"/>
<path d="M269.9 398.7C270.7 399.3 273.2 401.7 274.9 402.4C276.6 403.2 278.3 403.4 279.9 403.4C281.5 403.4 283.5 402.6 284.3 402.4"/>
<path d="M273.9 396.8C274.3 396.5 275.2 395.2 276.2 395C277.2 394.7 278.7 395.1 279.9 395.6C281.2 396.1 283 397.7 283.7 398.1"/>
<path d="M253.7 349.4C253.7 352 253.5 360.1 253.7 365C253.9 369.9 254.7 376.4 254.9 378.7"/>
<path d="M254.9 378.7L294.9 401.2"/>
<path d="M294.9 401.2C295 399.9 294.9 397 295.5 393.7C296.1 390.4 297.5 385 298.6 381.2C299.8 377.5 300.9 374.8 302.4 371.2C303.8 367.7 306.1 362.7 307.4 360C308.7 357.3 309.7 355.8 310.1 355"/>
<path d="M296.4 401.2C296.5 399.5 296.4 394.7 297 391.2C297.6 387.7 298.8 383.9 300.1 380C301.5 376 303.5 371 305.1 367.5C306.8 363.9 309.3 360.2 310.1 358.7"/>
<path d="M289.9 350L302.4 356.9L306.8 358.7"/>
<path d="M298.6 402.4C298.8 403.7 298.8 407.6 299.9 409.9C300.9 412.2 303.2 414.6 304.9 416.2C306.6 417.7 309.3 418.8 310.1 419.3"/>
<path d="M243.7 396.2L243.7 448.6"/>
<path d="M257.4 398.1L257.4 448.6"/>
<path d="M274.3 402.4L274.3 448.6"/>
<path d="M284.9 397.5L284.9 448.6"/>
<path d="M288 398.7L288 448.6"/>
<path d="M290.5 399.9L290.5 448.6"/>
<path d="M226.2 382.5L226.2 387.5L236.8 393.1"/>
<path d="M226.2 382.5L244.9 393.1"/>
<path d="M236.8 387.5L236.8 393.1L243.7 396.5"/>
<path d="M210 390C208.6 393.1 204.3 403.4 201.9 408.7C199.5 414 196.8 419 195.6 421.8C194.4 424.6 194.5 424.4 194.7 425.5C195 426.7 195.8 428 196.9 428.7C198 429.3 200.1 429.5 201.2 429.3C202.4 429.1 203.3 427.7 203.7 427.4"/>
<path d="M210 390C210.6 389.5 212.4 387.6 213.7 387.5C215.1 387.3 217.4 388.7 218.1 389"/>
<path d="M218.1 389L208.7 409.9L202.5 408.4"/>
<path d="M208.7 409.9L199.4 423.7L197.2 426.4"/>
<path d="M208.7 409.9L231.2 393.1"/>
<path d="M218.1 389C218.8 388.7 220.3 386.9 222.5 387.5C224.7 388 229.8 391.4 231.2 392.2"/>
<path d="M199.4 423.7L239.9 396.2"/>
<path d="M203.7 427.4L242.4 398.1"/>
<path d="M290.5 436.2L308.6 419.9"/>
<path d="M290.5 439.3L310.1 422.4"/></g>
<clipPath id="c_t_wing"><rect x="280" y="200" width="38" height="98"/><rect x="318" y="200" width="5" height="36"/></clipPath><g clip-path="url(#c_t_wing)"><path d="M291.2 248.7C292.9 246.1 298.3 237.4 301.2 233.1C304.1 228.8 306.6 225.3 308.7 223.1C310.8 220.9 312.3 220.7 313.7 220C315.2 219.3 316.4 218.8 317.5 219C318.5 219.1 319.4 220.2 320 221C320.5 221.7 320.9 222.8 320.6 223.5C320.3 224.1 318.6 224.7 318.2 225"/>
<path d="M318.2 225C318.5 225.7 319.8 228.1 319.7 229.3C319.6 230.6 317.8 232.2 317.5 232.7"/>
<path d="M317.5 232.7L317.1 225.6"/>
<path d="M317.1 225.6L315.6 252.4L312.7 279.9"/>
<path d="M315 223.1L311.8 252.4L310.6 278.9"/>
<path d="M301.2 234L306.8 236.8L309 223.5"/>
<path d="M306.8 236.8L306.2 271.4"/>
<path d="M306.8 236.8L295.6 258.7L296.2 263.7L306.2 271.4L311.2 271.8"/>
<path d="M291.9 268.1L295.6 265.6L306.8 271.8L303.1 274.9L291.9 268.1"/>
<path d="M285 200L285 287.4"/>
<path d="M288.1 200L288.1 279.9"/>
<path d="M291 200L291 269.9"/>
<path d="M288.1 279.9C288.8 279.6 290.3 278.5 292.5 278C294.7 277.6 298.3 277.1 301.2 277.4C304.1 277.7 307.3 278.7 310 279.9C312.7 281.2 315.3 282.9 317.5 284.9C319.6 286.9 321.6 289.5 323.1 291.8C324.6 294.1 325.9 297.5 326.5 298.6"/>
<path d="M288.1 279.9C288.2 281 288 284.7 288.7 286.2C289.5 287.7 291 288.5 292.5 288.9C293.9 289.3 296.6 288.7 297.5 288.7"/>
<path d="M292.5 279C293.1 279.6 295.4 281 296.2 282.4C297.1 283.8 297.4 286.3 297.5 287.4C297.6 288.5 297 288.7 296.9 288.9"/>
<path d="M297.5 287.4C299.4 287.2 305.6 285.7 308.7 286.2C311.8 286.6 314.1 287.8 316.2 289.9C318.3 292 320.6 297.2 321.5 298.6"/></g>
<clipPath id="c_t_x"><rect x="318" y="285" width="142" height="15"/><rect x="440" y="300" width="20" height="60"/></clipPath><g clip-path="url(#c_t_x)"><path d="M358.3 284.9C359.7 285.4 364.1 286.1 366.6 287.4C369.1 288.8 371.3 291.2 373.3 293.3C375.2 295.3 376 297.8 378.3 299.9C380.5 302 384.1 304.5 386.6 305.8C389.1 307 392.1 307.1 393.2 307.4"/>
<path d="M361.6 283.6C363 284.2 367.4 285.7 369.9 287.4C372.4 289.2 374.6 291.9 376.6 294.1C378.5 296.3 379.4 299 381.6 300.8C383.8 302.6 386.9 305.3 389.9 304.9C393 304.5 395.5 300.7 399.9 298.3C404.3 295.8 411 292 416.5 290.3C422.1 288.5 427.6 287.7 433.2 287.6C438.7 287.6 445.4 288.9 449.8 289.9C454.3 291 458.3 293.4 460 294.1"/>
<path d="M460 265.3L393.2 303.6"/>
<path d="M376.6 300.8L345 317.4"/>
<path d="M387.4 306.6L365.8 319.9"/>
<path d="M330 298.6L358.3 284.9"/>
<path d="M374.1 289.9L424 261.6"/>
<path d="M374.9 291.9L424.9 264.1"/>
<path d="M376.6 293.3L426.5 265.8"/>
<path d="M319.1 311.6C320.4 310.2 323.9 305.3 326.6 303.3C329.4 301.2 333.4 299.6 335.8 299.1C338.2 298.5 340 299.8 340.8 299.9"/>
<path d="M325 304.1C326.4 303.5 330.8 300.9 333.3 300.8C335.8 300.6 337.9 301.5 340 303.3C342 305.1 344.4 308.3 345.8 311.6C347.2 314.9 348 319.6 348.3 323.2C348.6 326.8 347.6 331.6 347.5 333.2"/>
<path d="M335.8 299.1C337.3 299.8 342.3 300.9 345 303.3C347.6 305.6 349.7 309.9 351.6 313.2C353.6 316.6 355.5 320.7 356.6 323.2C357.7 325.8 358 327.7 358.3 328.6"/>
<path d="M300 278.3C301.7 278.4 306.9 278.3 310 279.1C313 279.9 315.8 281.2 318.3 283.3C320.8 285.4 322.9 289.2 325 291.6C327.1 294 329.8 296.9 330.8 297.9"/>
<path d="M300 287.4C301.9 287.6 308.3 287.3 311.7 288.3C315 289.2 317.5 291 320 293.3C322.5 295.5 325.5 300.5 326.6 301.9"/>
<path d="M300 296.6C302.2 297.2 310 297.7 313.3 299.9C316.6 302.1 318.9 308.3 320 309.9"/>
<path d="M300 303.3C301.7 303.5 307.2 303.8 310 304.9C312.8 306 315.1 308.7 316.6 309.9C318.2 311.2 318.7 312 319.1 312.4"/>
<path d="M354.9 319.9C356.9 320 362.4 319.9 366.6 320.7C370.8 321.6 375.5 323 379.9 324.9C384.4 326.8 388.8 329.3 393.2 332.4C397.7 335.4 402.7 339.5 406.6 343.2C410.4 347 414.3 352 416.5 354.9C418.8 357.8 419.6 359.7 420.2 360.7"/>
<path d="M357.4 328.2C359.5 328.5 365.6 328.8 369.9 329.9C374.2 331 378.8 332.7 383.2 334.9C387.7 337.1 392.7 340.2 396.6 343.2C400.5 346.3 404 350.3 406.6 353.2C409.1 356.1 411 359.4 411.9 360.7"/>
<path d="M358.3 331.6C360.2 331.8 366 332.1 369.9 333.2C373.8 334.3 377.7 336 381.6 338.2C385.5 340.4 389.6 343.5 393.2 346.5C396.8 349.6 401.1 354.2 403.2 356.5C405.4 358.9 405.6 360 406.1 360.7"/>
<path d="M357.4 328.2L365.8 319.9"/>
<path d="M399.9 307.4C402.1 306.2 408.8 301.7 413.2 299.9C417.7 298.1 422.1 297.2 426.5 296.6C431 296 435.4 296 439.9 296.6C444.3 297.2 449.8 298.8 453.2 299.9C456.5 301 458.9 302.7 460 303.3"/>
<path d="M416.5 296.6C419.3 297.2 428.2 298 433.2 299.9C438.2 301.9 442.6 304.9 446.5 308.3C450.4 311.6 454.3 316.9 456.5 319.9C458.8 323 459.4 325.5 460 326.6"/>
<path d="M401.6 307.4L443.2 336.6"/>
<path d="M419.9 308.3L460 336.6"/>
<path d="M414.9 358.2L439.9 344.9"/>
<path d="M423.2 360.7L449.8 345.2"/>
<path d="M439.9 344.9C441 344.6 444.3 342.9 446.5 343.2C448.7 343.5 450.9 344.9 453.2 346.5C455.4 348.2 458.9 352.1 460 353.2"/></g>
<clipPath id="c_t_y"><rect x="520" y="400" width="120" height="98"/></clipPath><g clip-path="url(#c_t_y)"><path d="M520 420.6C521.7 420.5 526.9 419.7 530 420C533.1 420.3 536.2 421.5 538.7 422.5C541.2 423.4 543.9 425.1 545 425.6"/>
<path d="M545 425.6L639.9 479.9"/>
<path d="M523.7 413.1C526.2 413.7 533.9 415.2 538.7 416.9C543.5 418.5 548.3 420.8 552.5 423.1C556.6 425.4 561.8 429.3 563.7 430.6"/>
<path d="M563.7 430.6L576.2 441.2L578.1 443.7"/>
<path d="M564 431.8L574.9 440.2"/>
<path d="M538.7 400L563.7 430.6"/>
<path d="M553.7 400L568.1 425L563.7 430.6"/>
<path d="M568.1 425L584.9 436.2L578.1 443.7"/>
<path d="M584.9 436.2L584.9 447.5"/>
<path d="M557.5 400C558.3 401.9 560.8 407.5 562.5 411.2C564.1 415 566.6 420.6 567.5 422.5"/>
<path d="M567.5 400C568.9 402.7 573.5 410.6 576.2 416.2C578.9 421.9 582.4 430.8 583.7 433.7"/>
<path d="M573.7 400C575.2 402.9 579.7 411.2 582.4 417.5C585.1 423.7 587.6 431.3 589.9 437.5C592.2 443.6 595.1 451.7 596.2 454.6"/>
<path d="M520 407.5L523.7 402.5L527.5 405.6L523.7 412.5L520 410"/>
<path d="M527.5 405.6L538.7 400"/>
<path d="M523.7 412.5C523.6 413.1 522.9 415 523.1 416.2C523.3 417.5 524.7 419.4 525 420"/></g>
<path d="M324.9 713.1L384.4 680L396.8 685L387.9 700.5L339.9 729.3Z" fill="#fff" stroke="none"/>
<path d="M324.9 713.1L384.4 680"/>
<path d="M333.7 720.6L396.8 685"/>
<path d="M339.9 729.3L387.9 700.5"/>
<path d="M321.2 714.3L339.3 726.2L339.3 753L296.8 776.8L296.8 763L301.2 748.7L339.3 726.2" fill="#fff"/>
<path d="M321.2 714.3L339.3 726.2L301.2 748.7L293.1 747.4L313.7 721.2Z" fill="#fff"/>
<path d="M339.3 726.2L301.2 748.7"/>
<path d="M260.6 741.8L260.6 757.4L296.8 776.8L296.8 763L264 743.1Z" fill="#fff"/>
<path d="M321.2 692.5L332.4 699.4L332.4 704.3L312.4 719L298.1 710.6Z" fill="#fff"/>
<path d="M332.4 699.4L309.9 716.2"/>
<path d="M286 716.8C284.4 717.8 279.9 720.5 276.8 722.5C273.8 724.4 269.5 727 267.5 728.7C265.5 730.4 265.6 730.2 265 732.4C264.4 734.7 264.2 740.8 264 742.4" fill="#fff"/>
<path d="M286 716.8L276.8 722.5L267.5 728.7L265 732.4L264 743.1L285.6 754.9L286.2 748.1L287.5 743.7L291.2 741.2L299.9 738.1L307.4 729.3Z" fill="#fff" stroke="none"/>
<path d="M286 716.8C284.4 717.8 279.9 720.5 276.8 722.5C273.8 724.4 269.5 727 267.5 728.7C265.5 730.4 265.6 730.1 265 732.4C264.4 734.8 264.2 741.3 264 743.1"/>
<path d="M276.8 722.5L298.1 734.9"/>
<path d="M267.5 729.9L287.5 742.4L298.1 735.6L307.4 729.3"/>
<path d="M265 736.8L286.2 748.1L287.5 743.7L291.2 741.2L299.9 738.1L300.6 741.2"/>
<path d="M264 743.1L285.6 754.9L286.2 748.1"/>
<path d="M291.2 741.2L290.6 754.9L288.7 756.2L290 759.9L296.8 763"/>
<path d="M293.1 747.4L293.1 757.4L299.9 761.2L299.9 749.3L295 746.2"/>
<path d="M293.1 757.4L290.6 759.9"/>
<path d="M299.9 761.2L296.8 763"/>
<path d="M291.2 708.1L314.3 721.8L313.7 728.1L309.9 729.9L306.8 728.1L286 716.8L287.5 711.8Z" fill="#fff"/>
<path d="M288.1 712.2L311.2 724.3L313.9 722.1"/>
<path d="M311.2 724.3L309.9 729.9"/>
<path d="M267.5 753.7L267.5 761.4" stroke-width="1.2"/>
<path d="M269.4 754.5L269.4 762.3" stroke-width="1.2"/>
<path d="M271.9 755.9L271.9 763.7" stroke-width="1.2"/>
<path d="M274.3 757.3L274.3 765" stroke-width="1.2"/>
<path d="M276.8 758.5L276.8 766.3" stroke-width="1.2"/>
<path d="M280 760.3L280 768" stroke-width="1.2"/>
<path d="M282.5 761.5L282.5 769.3" stroke-width="1.2"/>
<path d="M285.2 763L285.2 770.8" stroke-width="1.2"/>
<path d="M287.7 764.3L287.7 772" stroke-width="1.2"/>
<path d="M267.5 753.7L288.7 764.9"/>
<path d="M318.3 312.5C321 309.7 325 309.6 328.3 310C331.6 310.4 335.5 312.2 338.3 315C341.1 317.8 343.5 322.5 345 326.6C346.4 330.8 347.1 336.7 347 340C346.8 343.2 345.4 344.7 344.1 346.3C342.8 347.9 341.3 348.9 339.1 349.6C336.9 350.4 333.7 351.3 330.8 350.8C327.9 350.3 324.3 348.8 321.6 346.6C319 344.4 316.5 340.8 315 337.5C313.5 334.1 311.9 330.8 312.5 326.6C313 322.5 315.7 315.3 318.3 312.5Z" fill="#fff"/>
<path d="M316.6 315C318 314.5 322.1 312 325 312C327.9 312 331.4 312.5 334.1 315C336.9 317.4 340 322.5 341.6 326.6C343.3 330.8 344 336.4 344 340C343.9 343.6 341.7 346.9 341.3 348.3"/>
<path d="M312.5 326.6C312.6 323.4 314 320.4 315.8 318.3C317.6 316.2 320.7 314.4 323.3 314.2C325.9 313.9 329.1 314.6 331.6 316.6C334.1 318.7 336.8 323 338.3 326.6C339.8 330.2 340.9 334.7 340.8 338.3C340.7 341.9 339.1 346.2 337.5 348.3C335.8 350.4 333.4 351.1 330.8 350.8C328.2 350.5 324.3 348.8 321.6 346.6C319 344.4 316.5 340.8 315 337.5C313.5 334.1 312.3 329.8 312.5 326.6Z" fill="#fff"/>
<path d="M318.6 325.3L320.6 324.6L322.3 332L328.6 331L330 334.1L323.3 335.6L326.6 342.5L325 343.6L321.3 336.3L318 337.3L317.1 334.6L320.3 333.3Z" stroke-width="1.3" fill="#fff"/>
<path d="M419.9 366.1C422.9 365 427.9 364.6 431.5 365.8C435.1 367 438.7 369.8 441.5 373.3C444.3 376.7 446.8 382.9 448.2 386.6C449.6 390.2 450.3 392.5 449.8 395.2C449.3 398 447.1 401.3 445.2 403.2C443.3 405.1 440.8 405.9 438.5 406.6C436.2 407.2 434.4 408.1 431.5 407.4C428.7 406.7 424.5 404.8 421.5 402.4C418.6 400 416 397 414 393.2C412.1 389.5 410 383.4 409.9 379.9C409.7 376.4 411.6 374.7 413.2 372.4C414.9 370.1 416.8 367.2 419.9 366.1Z" fill="#fff"/>
<path d="M416.5 368.3C418.5 368.1 424.6 366.3 428.2 367.4C431.8 368.5 435.4 371.6 438.2 374.9C441 378.3 443.5 383.8 444.8 387.4C446.2 391 446.8 393.7 446.5 396.6C446.2 399.4 443.5 403.2 442.9 404.6"/>
<path d="M409.9 379.9C409.7 376.4 411.3 374.3 413.2 372.4C415.2 370.5 418.5 368.5 421.5 368.6C424.6 368.7 428.6 370.5 431.5 373.3C434.4 376 437.4 380.7 439 384.9C440.7 389.1 441.7 394.8 441.5 398.2C441.4 401.7 439.9 404.2 438.2 405.7C436.5 407.2 434.3 407.9 431.5 407.4C428.8 406.8 424.5 404.8 421.5 402.4C418.6 400 416 397 414 393.2C412.1 389.5 410 383.4 409.9 379.9Z" fill="#fff"/>
<path d="M416.5 381.9L418.5 381.2L420.5 387.9L426.9 386.9L428.2 389.9L421.5 391.9L424.9 399.1L423.2 400.2L419.5 392.9L415.7 394.2L414.9 391.2L418.2 389.9Z" stroke-width="1.3" fill="#fff"/>
<path d="M472.7 304.3 L472.7 336.8 A26 12.2 0 0 0 524.7 336.8 L524.7 304.3 A26 13.7 0 0 0 472.7 304.3 Z" fill="#c6c6c6"/>
<ellipse cx="498.7" cy="304.3" rx="26" ry="13.7" fill="#c6c6c6"/>
<ellipse cx="498.7" cy="304.9" rx="24" ry="12.2"/>
<ellipse cx="498.7" cy="304.6" rx="16.9" ry="9" fill="#bdbdbd"/>
<path d="M472.8 333.9 A26 12.2 0 0 0 524.5 333.9"/>
<path d="M483.7 306.8L488.1 300.2L489.6 298.7L499.9 298.1L508.4 301L513.4 305.6" fill="none"/>
<path d="M488.1 300.2L489.3 310.9"/>
<path d="M489.6 298.7L489.9 311.8"/>
<path d="M504.9 299.7L505.2 311.4"/>
<path d="M508.4 301L508.9 310.6L513.7 305.2" fill="#1a1a1a"/>
<path d="M489.3 310.9L497.4 312.7L508.9 310.6"/>
<path d="M503.5 260.6L525.6 269.4L498.8 306.2Z" fill="#1a1a1a" stroke-width="0.5"/>
</g><text x="604.8" y="61" font-size="50" text-anchor="middle">1</text><g class="ln">
</g>
<!--OVERLAY-->
</svg>
</body></html>
